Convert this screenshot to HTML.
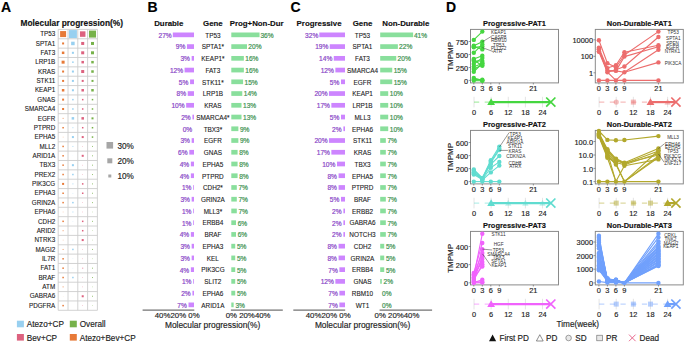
<!DOCTYPE html>
<html><head><meta charset="utf-8"><style>
html,body{margin:0;padding:0;background:#fff;width:685px;height:342px;overflow:hidden}
svg{display:block;font-family:"Liberation Sans",sans-serif}
</style></head><body>
<svg width="685" height="342" viewBox="0 0 685 342">
<rect width="685" height="342" fill="#fff"/>
<text x="1.00" y="11.80" font-size="14" text-anchor="start" font-weight="bold" fill="#000" stroke="#000" stroke-width="0.15">A</text>
<text x="20.50" y="25.90" font-size="8.35" text-anchor="start" font-weight="bold" fill="#111" stroke="#111" stroke-width="0.15">Molecular progression(%)</text>
<line x1="58.2" y1="29.4" x2="58.2" y2="310.3" stroke="#CDCDCD" stroke-width="0.9"/>
<line x1="68.0" y1="29.4" x2="68.0" y2="310.3" stroke="#CDCDCD" stroke-width="0.9"/>
<line x1="77.8" y1="29.4" x2="77.8" y2="310.3" stroke="#CDCDCD" stroke-width="0.9"/>
<line x1="87.6" y1="29.4" x2="87.6" y2="310.3" stroke="#CDCDCD" stroke-width="0.9"/>
<line x1="97.4" y1="29.4" x2="97.4" y2="310.3" stroke="#CDCDCD" stroke-width="0.9"/>
<line x1="58.2" y1="29.40" x2="97.4" y2="29.40" stroke="#CDCDCD" stroke-width="0.9"/>
<line x1="58.2" y1="38.76" x2="97.4" y2="38.76" stroke="#CDCDCD" stroke-width="0.9"/>
<line x1="58.2" y1="48.13" x2="97.4" y2="48.13" stroke="#CDCDCD" stroke-width="0.9"/>
<line x1="58.2" y1="57.49" x2="97.4" y2="57.49" stroke="#CDCDCD" stroke-width="0.9"/>
<line x1="58.2" y1="66.85" x2="97.4" y2="66.85" stroke="#CDCDCD" stroke-width="0.9"/>
<line x1="58.2" y1="76.22" x2="97.4" y2="76.22" stroke="#CDCDCD" stroke-width="0.9"/>
<line x1="58.2" y1="85.58" x2="97.4" y2="85.58" stroke="#CDCDCD" stroke-width="0.9"/>
<line x1="58.2" y1="94.94" x2="97.4" y2="94.94" stroke="#CDCDCD" stroke-width="0.9"/>
<line x1="58.2" y1="104.31" x2="97.4" y2="104.31" stroke="#CDCDCD" stroke-width="0.9"/>
<line x1="58.2" y1="113.67" x2="97.4" y2="113.67" stroke="#CDCDCD" stroke-width="0.9"/>
<line x1="58.2" y1="123.03" x2="97.4" y2="123.03" stroke="#CDCDCD" stroke-width="0.9"/>
<line x1="58.2" y1="132.40" x2="97.4" y2="132.40" stroke="#CDCDCD" stroke-width="0.9"/>
<line x1="58.2" y1="141.76" x2="97.4" y2="141.76" stroke="#CDCDCD" stroke-width="0.9"/>
<line x1="58.2" y1="151.12" x2="97.4" y2="151.12" stroke="#CDCDCD" stroke-width="0.9"/>
<line x1="58.2" y1="160.49" x2="97.4" y2="160.49" stroke="#CDCDCD" stroke-width="0.9"/>
<line x1="58.2" y1="169.85" x2="97.4" y2="169.85" stroke="#CDCDCD" stroke-width="0.9"/>
<line x1="58.2" y1="179.21" x2="97.4" y2="179.21" stroke="#CDCDCD" stroke-width="0.9"/>
<line x1="58.2" y1="188.58" x2="97.4" y2="188.58" stroke="#CDCDCD" stroke-width="0.9"/>
<line x1="58.2" y1="197.94" x2="97.4" y2="197.94" stroke="#CDCDCD" stroke-width="0.9"/>
<line x1="58.2" y1="207.30" x2="97.4" y2="207.30" stroke="#CDCDCD" stroke-width="0.9"/>
<line x1="58.2" y1="216.67" x2="97.4" y2="216.67" stroke="#CDCDCD" stroke-width="0.9"/>
<line x1="58.2" y1="226.03" x2="97.4" y2="226.03" stroke="#CDCDCD" stroke-width="0.9"/>
<line x1="58.2" y1="235.39" x2="97.4" y2="235.39" stroke="#CDCDCD" stroke-width="0.9"/>
<line x1="58.2" y1="244.76" x2="97.4" y2="244.76" stroke="#CDCDCD" stroke-width="0.9"/>
<line x1="58.2" y1="254.12" x2="97.4" y2="254.12" stroke="#CDCDCD" stroke-width="0.9"/>
<line x1="58.2" y1="263.48" x2="97.4" y2="263.48" stroke="#CDCDCD" stroke-width="0.9"/>
<line x1="58.2" y1="272.85" x2="97.4" y2="272.85" stroke="#CDCDCD" stroke-width="0.9"/>
<line x1="58.2" y1="282.21" x2="97.4" y2="282.21" stroke="#CDCDCD" stroke-width="0.9"/>
<line x1="58.2" y1="291.57" x2="97.4" y2="291.57" stroke="#CDCDCD" stroke-width="0.9"/>
<line x1="58.2" y1="300.94" x2="97.4" y2="300.94" stroke="#CDCDCD" stroke-width="0.9"/>
<line x1="58.2" y1="310.30" x2="97.4" y2="310.30" stroke="#CDCDCD" stroke-width="0.9"/>
<text x="55.20" y="36.28" font-size="6.3" text-anchor="end" fill="#1a1a1a" stroke="#1a1a1a" stroke-width="0.1">TP53</text>
<rect x="60.10" y="31.08" width="6" height="6" fill="#E77A38" opacity="1"/>
<rect x="68.90" y="30.08" width="8" height="8" fill="#98D0F0" opacity="1"/>
<rect x="79.95" y="31.33" width="5.5" height="5.5" fill="#DD627F" opacity="1"/>
<rect x="89.00" y="30.58" width="7" height="7" fill="#77B24A" opacity="1"/>
<text x="55.20" y="45.65" font-size="6.3" text-anchor="end" fill="#1a1a1a" stroke="#1a1a1a" stroke-width="0.1">SPTA1</text>
<rect x="62.10" y="42.45" width="2" height="2" fill="#E77A38" opacity="1"/>
<rect x="71.15" y="41.70" width="3.5" height="3.5" fill="#98D0F0" opacity="1"/>
<rect x="81.20" y="41.95" width="3" height="3" fill="#DD627F" opacity="1"/>
<rect x="91.00" y="41.95" width="3" height="3" fill="#77B24A" opacity="1"/>
<text x="55.20" y="55.01" font-size="6.3" text-anchor="end" fill="#1a1a1a" stroke="#1a1a1a" stroke-width="0.1">FAT3</text>
<rect x="61.85" y="51.56" width="2.5" height="2.5" fill="#E77A38" opacity="1"/>
<rect x="71.90" y="51.81" width="2" height="2" fill="#98D0F0" opacity="1"/>
<rect x="81.20" y="51.31" width="3" height="3" fill="#DD627F" opacity="1"/>
<rect x="91.00" y="51.31" width="3" height="3" fill="#77B24A" opacity="1"/>
<text x="55.20" y="64.37" font-size="6.3" text-anchor="end" fill="#1a1a1a" stroke="#1a1a1a" stroke-width="0.1">LRP1B</text>
<rect x="61.60" y="60.67" width="3" height="3" fill="#E77A38" opacity="1"/>
<rect x="72.15" y="61.42" width="1.5" height="1.5" fill="#98D0F0" opacity="1"/>
<rect x="81.45" y="60.92" width="2.5" height="2.5" fill="#DD627F" opacity="1"/>
<rect x="91.25" y="60.92" width="2.5" height="2.5" fill="#77B24A" opacity="1"/>
<text x="55.20" y="73.73" font-size="6.3" text-anchor="end" fill="#1a1a1a" stroke="#1a1a1a" stroke-width="0.1">KRAS</text>
<rect x="62.10" y="70.53" width="2" height="2" fill="#E77A38" opacity="1"/>
<rect x="71.90" y="70.53" width="2" height="2" fill="#98D0F0" opacity="1"/>
<rect x="81.20" y="70.03" width="3" height="3" fill="#DD627F" opacity="1"/>
<rect x="91.25" y="70.28" width="2.5" height="2.5" fill="#77B24A" opacity="1"/>
<text x="55.20" y="83.10" font-size="6.3" text-anchor="end" fill="#1a1a1a" stroke="#1a1a1a" stroke-width="0.1">STK11</text>
<rect x="62.10" y="79.90" width="2" height="2" fill="#E77A38" opacity="1"/>
<rect x="71.90" y="79.90" width="2" height="2" fill="#98D0F0" opacity="1"/>
<rect x="81.70" y="79.90" width="2" height="2" fill="#DD627F" opacity="1"/>
<rect x="91.50" y="79.90" width="2" height="2" fill="#77B24A" opacity="1"/>
<text x="55.20" y="92.46" font-size="6.3" text-anchor="end" fill="#1a1a1a" stroke="#1a1a1a" stroke-width="0.1">KEAP1</text>
<rect x="61.85" y="89.01" width="2.5" height="2.5" fill="#E77A38" opacity="1"/>
<rect x="71.90" y="89.26" width="2" height="2" fill="#98D0F0" opacity="1"/>
<rect x="81.45" y="89.01" width="2.5" height="2.5" fill="#DD627F" opacity="1"/>
<rect x="91.25" y="89.01" width="2.5" height="2.5" fill="#77B24A" opacity="1"/>
<text x="55.20" y="101.83" font-size="6.3" text-anchor="end" fill="#1a1a1a" stroke="#1a1a1a" stroke-width="0.1">GNAS</text>
<rect x="62.10" y="98.62" width="2" height="2" fill="#E77A38" opacity="1"/>
<rect x="72.15" y="98.88" width="1.5" height="1.5" fill="#98D0F0" opacity="1"/>
<rect x="81.95" y="98.88" width="1.5" height="1.5" fill="#DD627F" opacity="1"/>
<rect x="91.75" y="98.88" width="1.5" height="1.5" fill="#77B24A" opacity="1"/>
<text x="55.20" y="111.19" font-size="6.3" text-anchor="end" fill="#1a1a1a" stroke="#1a1a1a" stroke-width="0.1">SMARCA4</text>
<rect x="62.10" y="107.99" width="2" height="2" fill="#E77A38" opacity="1"/>
<rect x="72.15" y="108.24" width="1.5" height="1.5" fill="#98D0F0" opacity="1"/>
<rect x="81.95" y="108.24" width="1.5" height="1.5" fill="#DD627F" opacity="1"/>
<rect x="91.75" y="108.24" width="1.5" height="1.5" fill="#77B24A" opacity="1"/>
<text x="55.20" y="120.55" font-size="6.3" text-anchor="end" fill="#1a1a1a" stroke="#1a1a1a" stroke-width="0.1">EGFR</text>
<rect x="62.60" y="117.85" width="1" height="1" fill="#E77A38" opacity="0.75"/>
<rect x="71.65" y="117.10" width="2.5" height="2.5" fill="#98D0F0" opacity="1"/>
<rect x="81.45" y="117.10" width="2.5" height="2.5" fill="#DD627F" opacity="1"/>
<rect x="91.50" y="117.35" width="2" height="2" fill="#77B24A" opacity="1"/>
<text x="55.20" y="129.91" font-size="6.3" text-anchor="end" fill="#1a1a1a" stroke="#1a1a1a" stroke-width="0.1">PTPRD</text>
<rect x="62.35" y="126.97" width="1.5" height="1.5" fill="#E77A38" opacity="1"/>
<rect x="72.40" y="127.22" width="1" height="1" fill="#98D0F0" opacity="0.75"/>
<rect x="81.95" y="126.97" width="1.5" height="1.5" fill="#DD627F" opacity="1"/>
<rect x="91.75" y="126.97" width="1.5" height="1.5" fill="#77B24A" opacity="1"/>
<text x="55.20" y="139.28" font-size="6.3" text-anchor="end" fill="#1a1a1a" stroke="#1a1a1a" stroke-width="0.1">EPHA5</text>
<rect x="62.80" y="136.78" width="0.6" height="0.6" fill="#E77A38" opacity="0.75"/>
<rect x="71.90" y="136.08" width="2" height="2" fill="#98D0F0" opacity="1"/>
<rect x="81.70" y="136.08" width="2" height="2" fill="#DD627F" opacity="1"/>
<rect x="91.75" y="136.33" width="1.5" height="1.5" fill="#77B24A" opacity="1"/>
<text x="55.20" y="148.64" font-size="6.3" text-anchor="end" fill="#1a1a1a" stroke="#1a1a1a" stroke-width="0.1">MLL2</text>
<rect x="62.35" y="145.69" width="1.5" height="1.5" fill="#E77A38" opacity="1"/>
<rect x="72.40" y="145.94" width="1" height="1" fill="#98D0F0" opacity="0.75"/>
<rect x="82.40" y="146.14" width="0.6" height="0.6" fill="#DD627F" opacity="0.75"/>
<rect x="92.00" y="145.94" width="1" height="1" fill="#77B24A" opacity="0.75"/>
<text x="55.20" y="158.01" font-size="6.3" text-anchor="end" fill="#1a1a1a" stroke="#1a1a1a" stroke-width="0.1">ARID1A</text>
<rect x="62.35" y="155.06" width="1.5" height="1.5" fill="#E77A38" opacity="1"/>
<rect x="72.75" y="155.66" width="0.3" height="0.3" fill="#98D0F0" opacity="0.75"/>
<rect x="81.70" y="154.81" width="2" height="2" fill="#DD627F" opacity="1"/>
<rect x="92.00" y="155.31" width="1" height="1" fill="#77B24A" opacity="0.75"/>
<text x="55.20" y="167.37" font-size="6.3" text-anchor="end" fill="#1a1a1a" stroke="#1a1a1a" stroke-width="0.1">TBX3</text>
<rect x="62.35" y="164.42" width="1.5" height="1.5" fill="#E77A38" opacity="1"/>
<rect x="71.90" y="164.17" width="2" height="2" fill="#98D0F0" opacity="1"/>
<rect x="82.40" y="164.87" width="0.6" height="0.6" fill="#DD627F" opacity="0.75"/>
<rect x="92.00" y="164.67" width="1" height="1" fill="#77B24A" opacity="0.75"/>
<text x="55.20" y="176.73" font-size="6.3" text-anchor="end" fill="#1a1a1a" stroke="#1a1a1a" stroke-width="0.1">PREX2</text>
<rect x="62.35" y="173.78" width="1.5" height="1.5" fill="#E77A38" opacity="1"/>
<rect x="72.15" y="173.78" width="1.5" height="1.5" fill="#98D0F0" opacity="1"/>
<rect x="82.40" y="174.23" width="0.6" height="0.6" fill="#DD627F" opacity="0.75"/>
<rect x="92.00" y="174.03" width="1" height="1" fill="#77B24A" opacity="0.75"/>
<text x="55.20" y="186.10" font-size="6.3" text-anchor="end" fill="#1a1a1a" stroke="#1a1a1a" stroke-width="0.1">PIK3CG</text>
<rect x="62.10" y="182.90" width="2" height="2" fill="#E77A38" opacity="1"/>
<rect x="72.40" y="183.40" width="1" height="1" fill="#98D0F0" opacity="0.75"/>
<rect x="81.95" y="183.15" width="1.5" height="1.5" fill="#DD627F" opacity="1"/>
<rect x="92.00" y="183.40" width="1" height="1" fill="#77B24A" opacity="0.75"/>
<text x="55.20" y="195.46" font-size="6.3" text-anchor="end" fill="#1a1a1a" stroke="#1a1a1a" stroke-width="0.1">EPHA3</text>
<rect x="62.35" y="192.51" width="1.5" height="1.5" fill="#E77A38" opacity="1"/>
<rect x="72.60" y="192.96" width="0.6" height="0.6" fill="#98D0F0" opacity="0.75"/>
<rect x="81.95" y="192.51" width="1.5" height="1.5" fill="#DD627F" opacity="1"/>
<rect x="92.00" y="192.76" width="1" height="1" fill="#77B24A" opacity="0.75"/>
<text x="55.20" y="204.82" font-size="6.3" text-anchor="end" fill="#1a1a1a" stroke="#1a1a1a" stroke-width="0.1">GRIN2A</text>
<rect x="62.35" y="201.87" width="1.5" height="1.5" fill="#E77A38" opacity="1"/>
<rect x="72.15" y="201.87" width="1.5" height="1.5" fill="#98D0F0" opacity="1"/>
<rect x="82.40" y="202.32" width="0.6" height="0.6" fill="#DD627F" opacity="0.75"/>
<rect x="92.00" y="202.12" width="1" height="1" fill="#77B24A" opacity="0.75"/>
<text x="55.20" y="214.19" font-size="6.3" text-anchor="end" fill="#1a1a1a" stroke="#1a1a1a" stroke-width="0.1">EPHA6</text>
<rect x="62.80" y="211.69" width="0.6" height="0.6" fill="#E77A38" opacity="0.75"/>
<rect x="72.40" y="211.49" width="1" height="1" fill="#98D0F0" opacity="0.75"/>
<rect x="82.40" y="211.69" width="0.6" height="0.6" fill="#DD627F" opacity="0.75"/>
<rect x="92.20" y="211.69" width="0.6" height="0.6" fill="#77B24A" opacity="0.75"/>
<text x="55.20" y="223.55" font-size="6.3" text-anchor="end" fill="#1a1a1a" stroke="#1a1a1a" stroke-width="0.1">CDH2</text>
<rect x="62.35" y="220.60" width="1.5" height="1.5" fill="#E77A38" opacity="1"/>
<rect x="72.65" y="221.10" width="0.5" height="0.5" fill="#98D0F0" opacity="0.75"/>
<rect x="81.95" y="220.60" width="1.5" height="1.5" fill="#DD627F" opacity="1"/>
<rect x="92.00" y="220.85" width="1" height="1" fill="#77B24A" opacity="0.75"/>
<text x="55.20" y="232.91" font-size="6.3" text-anchor="end" fill="#1a1a1a" stroke="#1a1a1a" stroke-width="0.1">ARID2</text>
<rect x="62.60" y="230.21" width="1" height="1" fill="#E77A38" opacity="0.75"/>
<rect x="72.75" y="230.56" width="0.3" height="0.3" fill="#98D0F0" opacity="0.75"/>
<rect x="81.95" y="229.96" width="1.5" height="1.5" fill="#DD627F" opacity="1"/>
<rect x="92.20" y="230.41" width="0.6" height="0.6" fill="#77B24A" opacity="0.75"/>
<text x="55.20" y="242.28" font-size="6.3" text-anchor="end" fill="#1a1a1a" stroke="#1a1a1a" stroke-width="0.1">NTRK3</text>
<rect x="62.80" y="239.78" width="0.6" height="0.6" fill="#E77A38" opacity="0.75"/>
<rect x="72.60" y="239.78" width="0.6" height="0.6" fill="#98D0F0" opacity="0.75"/>
<rect x="81.70" y="239.08" width="2" height="2" fill="#DD627F" opacity="1"/>
<rect x="92.20" y="239.78" width="0.6" height="0.6" fill="#77B24A" opacity="0.75"/>
<text x="55.20" y="251.64" font-size="6.3" text-anchor="end" fill="#1a1a1a" stroke="#1a1a1a" stroke-width="0.1">MAGI2</text>
<rect x="62.60" y="248.94" width="1" height="1" fill="#E77A38" opacity="0.75"/>
<rect x="72.15" y="248.69" width="1.5" height="1.5" fill="#98D0F0" opacity="1"/>
<rect x="82.40" y="249.14" width="0.6" height="0.6" fill="#DD627F" opacity="0.75"/>
<rect x="92.00" y="248.94" width="1" height="1" fill="#77B24A" opacity="0.75"/>
<text x="55.20" y="261.00" font-size="6.3" text-anchor="end" fill="#1a1a1a" stroke="#1a1a1a" stroke-width="0.1">IL7R</text>
<rect x="62.35" y="258.05" width="1.5" height="1.5" fill="#E77A38" opacity="1"/>
<rect x="72.65" y="258.55" width="0.5" height="0.5" fill="#98D0F0" opacity="0.75"/>
<rect x="82.40" y="258.50" width="0.6" height="0.6" fill="#DD627F" opacity="0.75"/>
<rect x="92.20" y="258.50" width="0.6" height="0.6" fill="#77B24A" opacity="0.75"/>
<text x="55.20" y="270.37" font-size="6.3" text-anchor="end" fill="#1a1a1a" stroke="#1a1a1a" stroke-width="0.1">FAT1</text>
<rect x="62.35" y="267.42" width="1.5" height="1.5" fill="#E77A38" opacity="1"/>
<rect x="72.65" y="267.92" width="0.5" height="0.5" fill="#98D0F0" opacity="0.75"/>
<rect x="82.20" y="267.67" width="1" height="1" fill="#DD627F" opacity="0.75"/>
<rect x="92.00" y="267.67" width="1" height="1" fill="#77B24A" opacity="0.75"/>
<text x="55.20" y="279.73" font-size="6.3" text-anchor="end" fill="#1a1a1a" stroke="#1a1a1a" stroke-width="0.1">BRAF</text>
<rect x="62.35" y="276.78" width="1.5" height="1.5" fill="#E77A38" opacity="1"/>
<rect x="72.15" y="276.78" width="1.5" height="1.5" fill="#98D0F0" opacity="1"/>
<rect x="82.40" y="277.23" width="0.6" height="0.6" fill="#DD627F" opacity="0.75"/>
<rect x="92.00" y="277.03" width="1" height="1" fill="#77B24A" opacity="0.75"/>
<text x="55.20" y="289.09" font-size="6.3" text-anchor="end" fill="#1a1a1a" stroke="#1a1a1a" stroke-width="0.1">ATM</text>
<rect x="62.60" y="286.39" width="1" height="1" fill="#E77A38" opacity="0.75"/>
<rect x="82.40" y="286.59" width="0.6" height="0.6" fill="#DD627F" opacity="0.75"/>
<rect x="92.20" y="286.59" width="0.6" height="0.6" fill="#77B24A" opacity="0.75"/>
<text x="55.20" y="298.46" font-size="6.3" text-anchor="end" fill="#1a1a1a" stroke="#1a1a1a" stroke-width="0.1">GABRA6</text>
<rect x="62.95" y="296.11" width="0.3" height="0.3" fill="#E77A38" opacity="0.75"/>
<rect x="72.75" y="296.11" width="0.3" height="0.3" fill="#98D0F0" opacity="0.75"/>
<rect x="81.70" y="295.26" width="2" height="2" fill="#DD627F" opacity="1"/>
<rect x="92.00" y="295.76" width="1" height="1" fill="#77B24A" opacity="0.75"/>
<text x="55.20" y="307.82" font-size="6.3" text-anchor="end" fill="#1a1a1a" stroke="#1a1a1a" stroke-width="0.1">PDGFRA</text>
<rect x="62.35" y="304.87" width="1.5" height="1.5" fill="#E77A38" opacity="1"/>
<rect x="82.40" y="305.32" width="0.6" height="0.6" fill="#DD627F" opacity="0.75"/>
<rect x="92.20" y="305.32" width="0.6" height="0.6" fill="#77B24A" opacity="0.75"/>
<rect x="106.50" y="142.00" width="6.6" height="6.6" fill="#A6A6A6"/>
<text x="117.50" y="148.60" font-size="8.2" text-anchor="start" fill="#222" stroke="#222" stroke-width="0.15">30%</text>
<rect x="107.30" y="158.30" width="5" height="5" fill="#A6A6A6"/>
<text x="117.50" y="164.10" font-size="8.2" text-anchor="start" fill="#222" stroke="#222" stroke-width="0.15">20%</text>
<rect x="108.30" y="174.50" width="3" height="3" fill="#A6A6A6"/>
<text x="117.50" y="179.30" font-size="8.2" text-anchor="start" fill="#222" stroke="#222" stroke-width="0.15">10%</text>
<rect x="16.9" y="320.7" width="7" height="6.6" fill="#98D0F0"/>
<text x="26.80" y="327.30" font-size="8.2" text-anchor="start" fill="#222" stroke="#222" stroke-width="0.15">Atezo+CP</text>
<rect x="69.8" y="320.7" width="7" height="6.6" fill="#77B24A"/>
<text x="79.70" y="327.30" font-size="8.2" text-anchor="start" fill="#222" stroke="#222" stroke-width="0.15">Overall</text>
<rect x="16.9" y="334.0" width="7" height="6.6" fill="#DD627F"/>
<text x="26.80" y="340.60" font-size="8.2" text-anchor="start" fill="#222" stroke="#222" stroke-width="0.15">Bev+CP</text>
<rect x="69.8" y="334.0" width="7" height="6.6" fill="#E77A38"/>
<text x="79.70" y="340.60" font-size="8.2" text-anchor="start" fill="#222" stroke="#222" stroke-width="0.15">Atezo+Bev+CP</text>
<text x="147.50" y="11.80" font-size="14" text-anchor="start" font-weight="bold" fill="#000" stroke="#000" stroke-width="0.15">B</text>
<text x="154.20" y="26.00" font-size="7.85" text-anchor="start" font-weight="bold" fill="#111" stroke="#111" stroke-width="0.15">Durable</text>
<text x="212.90" y="26.00" font-size="7.85" text-anchor="middle" font-weight="bold" fill="#111" stroke="#111" stroke-width="0.15">Gene</text>
<text x="229.70" y="26.00" font-size="7.85" text-anchor="start" font-weight="bold" fill="#111" stroke="#111" stroke-width="0.15">Prog+Non-Dur</text>
<rect x="172.81" y="32.50" width="21.20" height="4.7" fill="#CD85FF"/>
<text x="171.68" y="37.75" font-size="6.6" text-anchor="end" fill="#8A48C8" stroke="#8A48C8" stroke-width="0.2">27%</text>
<text x="212.90" y="37.65" font-size="6.4" text-anchor="middle" fill="#1a1a1a" stroke="#1a1a1a" stroke-width="0.1">TP53</text>
<rect x="231.30" y="32.50" width="28.26" height="4.7" fill="#89DF9C"/>
<text x="260.46" y="37.75" font-size="6.6" text-anchor="start" fill="#3F9352" stroke="#3F9352" stroke-width="0.2">36%</text>
<rect x="186.94" y="44.24" width="7.07" height="4.7" fill="#CD85FF"/>
<text x="185.36" y="49.49" font-size="6.6" text-anchor="end" fill="#8A48C8" stroke="#8A48C8" stroke-width="0.2">9%</text>
<text x="212.90" y="49.39" font-size="6.4" text-anchor="middle" fill="#1a1a1a" stroke="#1a1a1a" stroke-width="0.1">SPTA1*</text>
<rect x="231.30" y="44.24" width="15.70" height="4.7" fill="#89DF9C"/>
<text x="248.30" y="49.49" font-size="6.6" text-anchor="start" fill="#3F9352" stroke="#3F9352" stroke-width="0.2">20%</text>
<rect x="191.65" y="55.98" width="2.35" height="4.7" fill="#CD85FF"/>
<text x="189.92" y="61.23" font-size="6.6" text-anchor="end" fill="#8A48C8" stroke="#8A48C8" stroke-width="0.2">3%</text>
<text x="212.90" y="61.13" font-size="6.4" text-anchor="middle" fill="#1a1a1a" stroke="#1a1a1a" stroke-width="0.1">KEAP1*</text>
<rect x="231.30" y="55.98" width="12.56" height="4.7" fill="#89DF9C"/>
<text x="245.26" y="61.23" font-size="6.6" text-anchor="start" fill="#3F9352" stroke="#3F9352" stroke-width="0.2">16%</text>
<rect x="184.58" y="67.72" width="9.42" height="4.7" fill="#CD85FF"/>
<text x="183.08" y="72.97" font-size="6.6" text-anchor="end" fill="#8A48C8" stroke="#8A48C8" stroke-width="0.2">12%</text>
<text x="212.90" y="72.87" font-size="6.4" text-anchor="middle" fill="#1a1a1a" stroke="#1a1a1a" stroke-width="0.1">FAT3</text>
<rect x="231.30" y="67.72" width="12.56" height="4.7" fill="#89DF9C"/>
<text x="245.26" y="72.97" font-size="6.6" text-anchor="start" fill="#3F9352" stroke="#3F9352" stroke-width="0.2">16%</text>
<rect x="190.07" y="79.46" width="3.93" height="4.7" fill="#CD85FF"/>
<text x="188.40" y="84.71" font-size="6.6" text-anchor="end" fill="#8A48C8" stroke="#8A48C8" stroke-width="0.2">5%</text>
<text x="212.90" y="84.61" font-size="6.4" text-anchor="middle" fill="#1a1a1a" stroke="#1a1a1a" stroke-width="0.1">STK11*</text>
<rect x="231.30" y="79.46" width="11.78" height="4.7" fill="#89DF9C"/>
<text x="244.50" y="84.71" font-size="6.6" text-anchor="start" fill="#3F9352" stroke="#3F9352" stroke-width="0.2">15%</text>
<rect x="187.72" y="91.20" width="6.28" height="4.7" fill="#CD85FF"/>
<text x="186.12" y="96.45" font-size="6.6" text-anchor="end" fill="#8A48C8" stroke="#8A48C8" stroke-width="0.2">8%</text>
<text x="212.90" y="96.35" font-size="6.4" text-anchor="middle" fill="#1a1a1a" stroke="#1a1a1a" stroke-width="0.1">LRP1B</text>
<rect x="231.30" y="91.20" width="10.99" height="4.7" fill="#89DF9C"/>
<text x="243.74" y="96.45" font-size="6.6" text-anchor="start" fill="#3F9352" stroke="#3F9352" stroke-width="0.2">14%</text>
<rect x="186.15" y="102.94" width="7.85" height="4.7" fill="#CD85FF"/>
<text x="184.60" y="108.19" font-size="6.6" text-anchor="end" fill="#8A48C8" stroke="#8A48C8" stroke-width="0.2">10%</text>
<text x="212.90" y="108.09" font-size="6.4" text-anchor="middle" fill="#1a1a1a" stroke="#1a1a1a" stroke-width="0.1">KRAS</text>
<rect x="231.30" y="102.94" width="10.21" height="4.7" fill="#89DF9C"/>
<text x="242.98" y="108.19" font-size="6.6" text-anchor="start" fill="#3F9352" stroke="#3F9352" stroke-width="0.2">13%</text>
<rect x="192.43" y="114.68" width="1.57" height="4.7" fill="#CD85FF"/>
<text x="190.68" y="119.93" font-size="6.6" text-anchor="end" fill="#8A48C8" stroke="#8A48C8" stroke-width="0.2">2%</text>
<text x="212.90" y="119.83" font-size="6.4" text-anchor="middle" fill="#1a1a1a" stroke="#1a1a1a" stroke-width="0.1">SMARCA4*</text>
<rect x="231.30" y="114.68" width="10.21" height="4.7" fill="#89DF9C"/>
<text x="242.98" y="119.93" font-size="6.6" text-anchor="start" fill="#3F9352" stroke="#3F9352" stroke-width="0.2">13%</text>
<text x="192.20" y="131.67" font-size="6.6" text-anchor="end" fill="#8A48C8" stroke="#8A48C8" stroke-width="0.2">0%</text>
<text x="212.90" y="131.57" font-size="6.4" text-anchor="middle" fill="#1a1a1a" stroke="#1a1a1a" stroke-width="0.1">TBX3*</text>
<rect x="231.30" y="126.42" width="7.07" height="4.7" fill="#89DF9C"/>
<text x="239.94" y="131.67" font-size="6.6" text-anchor="start" fill="#3F9352" stroke="#3F9352" stroke-width="0.2">9%</text>
<rect x="191.65" y="138.16" width="2.35" height="4.7" fill="#CD85FF"/>
<text x="189.92" y="143.41" font-size="6.6" text-anchor="end" fill="#8A48C8" stroke="#8A48C8" stroke-width="0.2">3%</text>
<text x="212.90" y="143.31" font-size="6.4" text-anchor="middle" fill="#1a1a1a" stroke="#1a1a1a" stroke-width="0.1">EGFR</text>
<rect x="231.30" y="138.16" width="7.07" height="4.7" fill="#89DF9C"/>
<text x="239.94" y="143.41" font-size="6.6" text-anchor="start" fill="#3F9352" stroke="#3F9352" stroke-width="0.2">9%</text>
<rect x="189.29" y="149.90" width="4.71" height="4.7" fill="#CD85FF"/>
<text x="187.64" y="155.15" font-size="6.6" text-anchor="end" fill="#8A48C8" stroke="#8A48C8" stroke-width="0.2">6%</text>
<text x="212.90" y="155.05" font-size="6.4" text-anchor="middle" fill="#1a1a1a" stroke="#1a1a1a" stroke-width="0.1">GNAS</text>
<rect x="231.30" y="149.90" width="6.28" height="4.7" fill="#89DF9C"/>
<text x="239.18" y="155.15" font-size="6.6" text-anchor="start" fill="#3F9352" stroke="#3F9352" stroke-width="0.2">8%</text>
<rect x="190.86" y="161.64" width="3.14" height="4.7" fill="#CD85FF"/>
<text x="189.16" y="166.89" font-size="6.6" text-anchor="end" fill="#8A48C8" stroke="#8A48C8" stroke-width="0.2">4%</text>
<text x="212.90" y="166.79" font-size="6.4" text-anchor="middle" fill="#1a1a1a" stroke="#1a1a1a" stroke-width="0.1">EPHA5</text>
<rect x="231.30" y="161.64" width="6.28" height="4.7" fill="#89DF9C"/>
<text x="239.18" y="166.89" font-size="6.6" text-anchor="start" fill="#3F9352" stroke="#3F9352" stroke-width="0.2">8%</text>
<rect x="190.86" y="173.38" width="3.14" height="4.7" fill="#CD85FF"/>
<text x="189.16" y="178.63" font-size="6.6" text-anchor="end" fill="#8A48C8" stroke="#8A48C8" stroke-width="0.2">4%</text>
<text x="212.90" y="178.53" font-size="6.4" text-anchor="middle" fill="#1a1a1a" stroke="#1a1a1a" stroke-width="0.1">PTPRD</text>
<rect x="231.30" y="173.38" width="6.28" height="4.7" fill="#89DF9C"/>
<text x="239.18" y="178.63" font-size="6.6" text-anchor="start" fill="#3F9352" stroke="#3F9352" stroke-width="0.2">8%</text>
<rect x="193.22" y="185.12" width="0.79" height="4.7" fill="#CD85FF"/>
<text x="191.44" y="190.37" font-size="6.6" text-anchor="end" fill="#8A48C8" stroke="#8A48C8" stroke-width="0.2">1%</text>
<text x="212.90" y="190.27" font-size="6.4" text-anchor="middle" fill="#1a1a1a" stroke="#1a1a1a" stroke-width="0.1">CDH2*</text>
<rect x="231.30" y="185.12" width="5.50" height="4.7" fill="#89DF9C"/>
<text x="238.42" y="190.37" font-size="6.6" text-anchor="start" fill="#3F9352" stroke="#3F9352" stroke-width="0.2">7%</text>
<rect x="191.65" y="196.86" width="2.35" height="4.7" fill="#CD85FF"/>
<text x="189.92" y="202.11" font-size="6.6" text-anchor="end" fill="#8A48C8" stroke="#8A48C8" stroke-width="0.2">3%</text>
<text x="212.90" y="202.01" font-size="6.4" text-anchor="middle" fill="#1a1a1a" stroke="#1a1a1a" stroke-width="0.1">GRIN2A</text>
<rect x="231.30" y="196.86" width="5.50" height="4.7" fill="#89DF9C"/>
<text x="238.42" y="202.11" font-size="6.6" text-anchor="start" fill="#3F9352" stroke="#3F9352" stroke-width="0.2">7%</text>
<rect x="193.22" y="208.60" width="0.79" height="4.7" fill="#CD85FF"/>
<text x="191.44" y="213.85" font-size="6.6" text-anchor="end" fill="#8A48C8" stroke="#8A48C8" stroke-width="0.2">1%</text>
<text x="212.90" y="213.75" font-size="6.4" text-anchor="middle" fill="#1a1a1a" stroke="#1a1a1a" stroke-width="0.1">MLL3*</text>
<rect x="231.30" y="208.60" width="5.50" height="4.7" fill="#89DF9C"/>
<text x="238.42" y="213.85" font-size="6.6" text-anchor="start" fill="#3F9352" stroke="#3F9352" stroke-width="0.2">7%</text>
<rect x="193.22" y="220.34" width="0.79" height="4.7" fill="#CD85FF"/>
<text x="191.44" y="225.59" font-size="6.6" text-anchor="end" fill="#8A48C8" stroke="#8A48C8" stroke-width="0.2">1%</text>
<text x="212.90" y="225.49" font-size="6.4" text-anchor="middle" fill="#1a1a1a" stroke="#1a1a1a" stroke-width="0.1">ERBB4</text>
<rect x="231.30" y="220.34" width="4.71" height="4.7" fill="#89DF9C"/>
<text x="237.66" y="225.59" font-size="6.6" text-anchor="start" fill="#3F9352" stroke="#3F9352" stroke-width="0.2">6%</text>
<rect x="190.86" y="232.08" width="3.14" height="4.7" fill="#CD85FF"/>
<text x="189.16" y="237.33" font-size="6.6" text-anchor="end" fill="#8A48C8" stroke="#8A48C8" stroke-width="0.2">4%</text>
<text x="212.90" y="237.23" font-size="6.4" text-anchor="middle" fill="#1a1a1a" stroke="#1a1a1a" stroke-width="0.1">BRAF</text>
<rect x="231.30" y="232.08" width="4.71" height="4.7" fill="#89DF9C"/>
<text x="237.66" y="237.33" font-size="6.6" text-anchor="start" fill="#3F9352" stroke="#3F9352" stroke-width="0.2">6%</text>
<rect x="191.65" y="243.82" width="2.35" height="4.7" fill="#CD85FF"/>
<text x="189.92" y="249.07" font-size="6.6" text-anchor="end" fill="#8A48C8" stroke="#8A48C8" stroke-width="0.2">3%</text>
<text x="212.90" y="248.97" font-size="6.4" text-anchor="middle" fill="#1a1a1a" stroke="#1a1a1a" stroke-width="0.1">EPHA3</text>
<rect x="231.30" y="243.82" width="3.93" height="4.7" fill="#89DF9C"/>
<text x="236.90" y="249.07" font-size="6.6" text-anchor="start" fill="#3F9352" stroke="#3F9352" stroke-width="0.2">5%</text>
<rect x="191.65" y="255.56" width="2.35" height="4.7" fill="#CD85FF"/>
<text x="189.92" y="260.81" font-size="6.6" text-anchor="end" fill="#8A48C8" stroke="#8A48C8" stroke-width="0.2">3%</text>
<text x="212.90" y="260.71" font-size="6.4" text-anchor="middle" fill="#1a1a1a" stroke="#1a1a1a" stroke-width="0.1">KEL</text>
<rect x="231.30" y="255.56" width="3.93" height="4.7" fill="#89DF9C"/>
<text x="236.90" y="260.81" font-size="6.6" text-anchor="start" fill="#3F9352" stroke="#3F9352" stroke-width="0.2">5%</text>
<rect x="190.86" y="267.30" width="3.14" height="4.7" fill="#CD85FF"/>
<text x="189.16" y="272.55" font-size="6.6" text-anchor="end" fill="#8A48C8" stroke="#8A48C8" stroke-width="0.2">4%</text>
<text x="212.90" y="272.45" font-size="6.4" text-anchor="middle" fill="#1a1a1a" stroke="#1a1a1a" stroke-width="0.1">PIK3CG</text>
<rect x="231.30" y="267.30" width="3.93" height="4.7" fill="#89DF9C"/>
<text x="236.90" y="272.55" font-size="6.6" text-anchor="start" fill="#3F9352" stroke="#3F9352" stroke-width="0.2">5%</text>
<rect x="193.22" y="279.04" width="0.79" height="4.7" fill="#CD85FF"/>
<text x="191.44" y="284.29" font-size="6.6" text-anchor="end" fill="#8A48C8" stroke="#8A48C8" stroke-width="0.2">1%</text>
<text x="212.90" y="284.19" font-size="6.4" text-anchor="middle" fill="#1a1a1a" stroke="#1a1a1a" stroke-width="0.1">SLIT2</text>
<rect x="231.30" y="279.04" width="3.93" height="4.7" fill="#89DF9C"/>
<text x="236.90" y="284.29" font-size="6.6" text-anchor="start" fill="#3F9352" stroke="#3F9352" stroke-width="0.2">5%</text>
<rect x="192.43" y="290.78" width="1.57" height="4.7" fill="#CD85FF"/>
<text x="190.68" y="296.03" font-size="6.6" text-anchor="end" fill="#8A48C8" stroke="#8A48C8" stroke-width="0.2">2%</text>
<text x="212.90" y="295.93" font-size="6.4" text-anchor="middle" fill="#1a1a1a" stroke="#1a1a1a" stroke-width="0.1">EPHA6</text>
<rect x="231.30" y="290.78" width="3.93" height="4.7" fill="#89DF9C"/>
<text x="236.90" y="296.03" font-size="6.6" text-anchor="start" fill="#3F9352" stroke="#3F9352" stroke-width="0.2">5%</text>
<rect x="188.50" y="302.52" width="5.50" height="4.7" fill="#CD85FF"/>
<text x="186.88" y="307.77" font-size="6.6" text-anchor="end" fill="#8A48C8" stroke="#8A48C8" stroke-width="0.2">7%</text>
<text x="212.90" y="307.67" font-size="6.4" text-anchor="middle" fill="#1a1a1a" stroke="#1a1a1a" stroke-width="0.1">ARID1A</text>
<rect x="231.30" y="302.52" width="2.35" height="4.7" fill="#89DF9C"/>
<text x="235.38" y="307.77" font-size="6.6" text-anchor="start" fill="#3F9352" stroke="#3F9352" stroke-width="0.2">3%</text>
<line x1="142.6" y1="310.1" x2="194.3" y2="310.1" stroke="#222" stroke-width="0.8"/>
<line x1="230.9" y1="310.1" x2="282.8" y2="310.1" stroke="#222" stroke-width="0.8"/>
<text x="162.60" y="317.60" font-size="7.8" text-anchor="middle" fill="#222" stroke="#222" stroke-width="0.15">40%</text>
<text x="262.70" y="317.60" font-size="7.8" text-anchor="middle" fill="#222" stroke="#222" stroke-width="0.15">40%</text>
<text x="178.30" y="317.60" font-size="7.8" text-anchor="middle" fill="#222" stroke="#222" stroke-width="0.15">20%</text>
<text x="247.00" y="317.60" font-size="7.8" text-anchor="middle" fill="#222" stroke="#222" stroke-width="0.15">20%</text>
<text x="194.00" y="317.60" font-size="7.8" text-anchor="middle" fill="#222" stroke="#222" stroke-width="0.15">0%</text>
<text x="231.30" y="317.60" font-size="7.8" text-anchor="middle" fill="#222" stroke="#222" stroke-width="0.15">0%</text>
<text x="212.65" y="327.80" font-size="8.4" text-anchor="middle" fill="#222" stroke="#222" stroke-width="0.15">Molecular progression(%)</text>
<text x="290.60" y="11.80" font-size="14" text-anchor="start" font-weight="bold" fill="#000" stroke="#000" stroke-width="0.15">C</text>
<text x="296.60" y="26.00" font-size="7.85" text-anchor="start" font-weight="bold" fill="#111" stroke="#111" stroke-width="0.15">Progressive</text>
<text x="362.50" y="26.00" font-size="7.85" text-anchor="middle" font-weight="bold" fill="#111" stroke="#111" stroke-width="0.15">Gene</text>
<text x="382.30" y="26.00" font-size="7.85" text-anchor="start" font-weight="bold" fill="#111" stroke="#111" stroke-width="0.15">Non-Durable</text>
<rect x="319.30" y="32.50" width="25.70" height="4.7" fill="#CD85FF"/>
<text x="318.30" y="37.75" font-size="6.6" text-anchor="end" fill="#8A48C8" stroke="#8A48C8" stroke-width="0.2">32%</text>
<text x="362.50" y="37.65" font-size="6.4" text-anchor="middle" fill="#1a1a1a" stroke="#1a1a1a" stroke-width="0.1">TP53</text>
<rect x="380.20" y="32.50" width="32.92" height="4.7" fill="#89DF9C"/>
<text x="413.90" y="37.75" font-size="6.6" text-anchor="start" fill="#3F9352" stroke="#3F9352" stroke-width="0.2">41%</text>
<rect x="329.74" y="44.24" width="15.26" height="4.7" fill="#CD85FF"/>
<text x="328.42" y="49.49" font-size="6.6" text-anchor="end" fill="#8A48C8" stroke="#8A48C8" stroke-width="0.2">19%</text>
<text x="362.50" y="49.39" font-size="6.4" text-anchor="middle" fill="#1a1a1a" stroke="#1a1a1a" stroke-width="0.1">SPTA1</text>
<rect x="380.20" y="44.24" width="17.67" height="4.7" fill="#89DF9C"/>
<text x="399.12" y="49.49" font-size="6.6" text-anchor="start" fill="#3F9352" stroke="#3F9352" stroke-width="0.2">22%</text>
<rect x="333.76" y="55.98" width="11.24" height="4.7" fill="#CD85FF"/>
<text x="332.31" y="61.23" font-size="6.6" text-anchor="end" fill="#8A48C8" stroke="#8A48C8" stroke-width="0.2">14%</text>
<text x="362.50" y="61.13" font-size="6.4" text-anchor="middle" fill="#1a1a1a" stroke="#1a1a1a" stroke-width="0.1">FAT3</text>
<rect x="380.20" y="55.98" width="16.06" height="4.7" fill="#89DF9C"/>
<text x="397.56" y="61.23" font-size="6.6" text-anchor="start" fill="#3F9352" stroke="#3F9352" stroke-width="0.2">20%</text>
<rect x="335.36" y="67.72" width="9.64" height="4.7" fill="#CD85FF"/>
<text x="333.86" y="72.97" font-size="6.6" text-anchor="end" fill="#8A48C8" stroke="#8A48C8" stroke-width="0.2">12%</text>
<text x="362.50" y="72.87" font-size="6.4" text-anchor="middle" fill="#1a1a1a" stroke="#1a1a1a" stroke-width="0.1">SMARCA4</text>
<rect x="380.20" y="67.72" width="12.04" height="4.7" fill="#89DF9C"/>
<text x="393.67" y="72.97" font-size="6.6" text-anchor="start" fill="#3F9352" stroke="#3F9352" stroke-width="0.2">15%</text>
<rect x="340.99" y="79.46" width="4.02" height="4.7" fill="#CD85FF"/>
<text x="339.31" y="84.71" font-size="6.6" text-anchor="end" fill="#8A48C8" stroke="#8A48C8" stroke-width="0.2">5%</text>
<text x="362.50" y="84.61" font-size="6.4" text-anchor="middle" fill="#1a1a1a" stroke="#1a1a1a" stroke-width="0.1">EGFR</text>
<rect x="380.20" y="79.46" width="12.04" height="4.7" fill="#89DF9C"/>
<text x="393.67" y="84.71" font-size="6.6" text-anchor="start" fill="#3F9352" stroke="#3F9352" stroke-width="0.2">15%</text>
<rect x="328.94" y="91.20" width="16.06" height="4.7" fill="#CD85FF"/>
<text x="327.64" y="96.45" font-size="6.6" text-anchor="end" fill="#8A48C8" stroke="#8A48C8" stroke-width="0.2">20%</text>
<text x="362.50" y="96.35" font-size="6.4" text-anchor="middle" fill="#1a1a1a" stroke="#1a1a1a" stroke-width="0.1">KEAP1</text>
<rect x="380.20" y="91.20" width="8.03" height="4.7" fill="#89DF9C"/>
<text x="389.78" y="96.45" font-size="6.6" text-anchor="start" fill="#3F9352" stroke="#3F9352" stroke-width="0.2">10%</text>
<rect x="331.35" y="102.94" width="13.65" height="4.7" fill="#CD85FF"/>
<text x="329.97" y="108.19" font-size="6.6" text-anchor="end" fill="#8A48C8" stroke="#8A48C8" stroke-width="0.2">17%</text>
<text x="362.50" y="108.09" font-size="6.4" text-anchor="middle" fill="#1a1a1a" stroke="#1a1a1a" stroke-width="0.1">LRP1B</text>
<rect x="380.20" y="102.94" width="8.03" height="4.7" fill="#89DF9C"/>
<text x="389.78" y="108.19" font-size="6.6" text-anchor="start" fill="#3F9352" stroke="#3F9352" stroke-width="0.2">10%</text>
<rect x="340.99" y="114.68" width="4.02" height="4.7" fill="#CD85FF"/>
<text x="339.31" y="119.93" font-size="6.6" text-anchor="end" fill="#8A48C8" stroke="#8A48C8" stroke-width="0.2">5%</text>
<text x="362.50" y="119.83" font-size="6.4" text-anchor="middle" fill="#1a1a1a" stroke="#1a1a1a" stroke-width="0.1">MLL3</text>
<rect x="380.20" y="114.68" width="8.03" height="4.7" fill="#89DF9C"/>
<text x="389.78" y="119.93" font-size="6.6" text-anchor="start" fill="#3F9352" stroke="#3F9352" stroke-width="0.2">10%</text>
<rect x="343.39" y="126.42" width="1.61" height="4.7" fill="#CD85FF"/>
<text x="341.64" y="131.67" font-size="6.6" text-anchor="end" fill="#8A48C8" stroke="#8A48C8" stroke-width="0.2">2%</text>
<text x="362.50" y="131.57" font-size="6.4" text-anchor="middle" fill="#1a1a1a" stroke="#1a1a1a" stroke-width="0.1">EPHA6</text>
<rect x="380.20" y="126.42" width="8.03" height="4.7" fill="#89DF9C"/>
<text x="389.78" y="131.67" font-size="6.6" text-anchor="start" fill="#3F9352" stroke="#3F9352" stroke-width="0.2">10%</text>
<rect x="328.94" y="138.16" width="16.06" height="4.7" fill="#CD85FF"/>
<text x="327.64" y="143.41" font-size="6.6" text-anchor="end" fill="#8A48C8" stroke="#8A48C8" stroke-width="0.2">20%</text>
<text x="362.50" y="143.31" font-size="6.4" text-anchor="middle" fill="#1a1a1a" stroke="#1a1a1a" stroke-width="0.1">STK11</text>
<rect x="380.20" y="138.16" width="5.62" height="4.7" fill="#89DF9C"/>
<text x="387.45" y="143.41" font-size="6.6" text-anchor="start" fill="#3F9352" stroke="#3F9352" stroke-width="0.2">7%</text>
<rect x="331.35" y="149.90" width="13.65" height="4.7" fill="#CD85FF"/>
<text x="329.97" y="155.15" font-size="6.6" text-anchor="end" fill="#8A48C8" stroke="#8A48C8" stroke-width="0.2">17%</text>
<text x="362.50" y="155.05" font-size="6.4" text-anchor="middle" fill="#1a1a1a" stroke="#1a1a1a" stroke-width="0.1">KRAS</text>
<rect x="380.20" y="149.90" width="5.62" height="4.7" fill="#89DF9C"/>
<text x="387.45" y="155.15" font-size="6.6" text-anchor="start" fill="#3F9352" stroke="#3F9352" stroke-width="0.2">7%</text>
<rect x="336.97" y="161.64" width="8.03" height="4.7" fill="#CD85FF"/>
<text x="335.42" y="166.89" font-size="6.6" text-anchor="end" fill="#8A48C8" stroke="#8A48C8" stroke-width="0.2">10%</text>
<text x="362.50" y="166.79" font-size="6.4" text-anchor="middle" fill="#1a1a1a" stroke="#1a1a1a" stroke-width="0.1">TBX3</text>
<rect x="380.20" y="161.64" width="5.62" height="4.7" fill="#89DF9C"/>
<text x="387.45" y="166.89" font-size="6.6" text-anchor="start" fill="#3F9352" stroke="#3F9352" stroke-width="0.2">7%</text>
<rect x="338.58" y="173.38" width="6.42" height="4.7" fill="#CD85FF"/>
<text x="336.98" y="178.63" font-size="6.6" text-anchor="end" fill="#8A48C8" stroke="#8A48C8" stroke-width="0.2">8%</text>
<text x="362.50" y="178.53" font-size="6.4" text-anchor="middle" fill="#1a1a1a" stroke="#1a1a1a" stroke-width="0.1">EPHA5</text>
<rect x="380.20" y="173.38" width="5.62" height="4.7" fill="#89DF9C"/>
<text x="387.45" y="178.63" font-size="6.6" text-anchor="start" fill="#3F9352" stroke="#3F9352" stroke-width="0.2">7%</text>
<rect x="338.58" y="185.12" width="6.42" height="4.7" fill="#CD85FF"/>
<text x="336.98" y="190.37" font-size="6.6" text-anchor="end" fill="#8A48C8" stroke="#8A48C8" stroke-width="0.2">8%</text>
<text x="362.50" y="190.27" font-size="6.4" text-anchor="middle" fill="#1a1a1a" stroke="#1a1a1a" stroke-width="0.1">PTPRD</text>
<rect x="380.20" y="185.12" width="5.62" height="4.7" fill="#89DF9C"/>
<text x="387.45" y="190.37" font-size="6.6" text-anchor="start" fill="#3F9352" stroke="#3F9352" stroke-width="0.2">7%</text>
<rect x="340.99" y="196.86" width="4.02" height="4.7" fill="#CD85FF"/>
<text x="339.31" y="202.11" font-size="6.6" text-anchor="end" fill="#8A48C8" stroke="#8A48C8" stroke-width="0.2">5%</text>
<text x="362.50" y="202.01" font-size="6.4" text-anchor="middle" fill="#1a1a1a" stroke="#1a1a1a" stroke-width="0.1">BRAF</text>
<rect x="380.20" y="196.86" width="5.62" height="4.7" fill="#89DF9C"/>
<text x="387.45" y="202.11" font-size="6.6" text-anchor="start" fill="#3F9352" stroke="#3F9352" stroke-width="0.2">7%</text>
<rect x="343.39" y="208.60" width="1.61" height="4.7" fill="#CD85FF"/>
<text x="341.64" y="213.85" font-size="6.6" text-anchor="end" fill="#8A48C8" stroke="#8A48C8" stroke-width="0.2">2%</text>
<text x="362.50" y="213.75" font-size="6.4" text-anchor="middle" fill="#1a1a1a" stroke="#1a1a1a" stroke-width="0.1">ERBB2</text>
<rect x="380.20" y="208.60" width="5.62" height="4.7" fill="#89DF9C"/>
<text x="387.45" y="213.85" font-size="6.6" text-anchor="start" fill="#3F9352" stroke="#3F9352" stroke-width="0.2">7%</text>
<rect x="343.39" y="220.34" width="1.61" height="4.7" fill="#CD85FF"/>
<text x="341.64" y="225.59" font-size="6.6" text-anchor="end" fill="#8A48C8" stroke="#8A48C8" stroke-width="0.2">2%</text>
<text x="362.50" y="225.49" font-size="6.4" text-anchor="middle" fill="#1a1a1a" stroke="#1a1a1a" stroke-width="0.1">GABRA6</text>
<rect x="380.20" y="220.34" width="5.62" height="4.7" fill="#89DF9C"/>
<text x="387.45" y="225.59" font-size="6.6" text-anchor="start" fill="#3F9352" stroke="#3F9352" stroke-width="0.2">7%</text>
<rect x="343.39" y="232.08" width="1.61" height="4.7" fill="#CD85FF"/>
<text x="341.64" y="237.33" font-size="6.6" text-anchor="end" fill="#8A48C8" stroke="#8A48C8" stroke-width="0.2">2%</text>
<text x="362.50" y="237.23" font-size="6.4" text-anchor="middle" fill="#1a1a1a" stroke="#1a1a1a" stroke-width="0.1">NOTCH3</text>
<rect x="380.20" y="232.08" width="5.62" height="4.7" fill="#89DF9C"/>
<text x="387.45" y="237.33" font-size="6.6" text-anchor="start" fill="#3F9352" stroke="#3F9352" stroke-width="0.2">7%</text>
<rect x="338.58" y="243.82" width="6.42" height="4.7" fill="#CD85FF"/>
<text x="336.98" y="249.07" font-size="6.6" text-anchor="end" fill="#8A48C8" stroke="#8A48C8" stroke-width="0.2">8%</text>
<text x="362.50" y="248.97" font-size="6.4" text-anchor="middle" fill="#1a1a1a" stroke="#1a1a1a" stroke-width="0.1">CDH2</text>
<rect x="380.20" y="243.82" width="4.02" height="4.7" fill="#89DF9C"/>
<text x="385.89" y="249.07" font-size="6.6" text-anchor="start" fill="#3F9352" stroke="#3F9352" stroke-width="0.2">5%</text>
<rect x="338.58" y="255.56" width="6.42" height="4.7" fill="#CD85FF"/>
<text x="336.98" y="260.81" font-size="6.6" text-anchor="end" fill="#8A48C8" stroke="#8A48C8" stroke-width="0.2">8%</text>
<text x="362.50" y="260.71" font-size="6.4" text-anchor="middle" fill="#1a1a1a" stroke="#1a1a1a" stroke-width="0.1">GRIN2A</text>
<rect x="380.20" y="255.56" width="4.02" height="4.7" fill="#89DF9C"/>
<text x="385.89" y="260.81" font-size="6.6" text-anchor="start" fill="#3F9352" stroke="#3F9352" stroke-width="0.2">5%</text>
<rect x="339.38" y="267.30" width="5.62" height="4.7" fill="#CD85FF"/>
<text x="337.75" y="272.55" font-size="6.6" text-anchor="end" fill="#8A48C8" stroke="#8A48C8" stroke-width="0.2">7%</text>
<text x="362.50" y="272.45" font-size="6.4" text-anchor="middle" fill="#1a1a1a" stroke="#1a1a1a" stroke-width="0.1">ERBB4</text>
<rect x="380.20" y="267.30" width="4.02" height="4.7" fill="#89DF9C"/>
<text x="385.89" y="272.55" font-size="6.6" text-anchor="start" fill="#3F9352" stroke="#3F9352" stroke-width="0.2">5%</text>
<rect x="335.36" y="279.04" width="9.64" height="4.7" fill="#CD85FF"/>
<text x="333.86" y="284.29" font-size="6.6" text-anchor="end" fill="#8A48C8" stroke="#8A48C8" stroke-width="0.2">12%</text>
<text x="362.50" y="284.19" font-size="6.4" text-anchor="middle" fill="#1a1a1a" stroke="#1a1a1a" stroke-width="0.1">GNAS</text>
<rect x="380.20" y="279.04" width="1.61" height="4.7" fill="#89DF9C"/>
<text x="383.56" y="284.29" font-size="6.6" text-anchor="start" fill="#3F9352" stroke="#3F9352" stroke-width="0.2">2%</text>
<rect x="339.38" y="290.78" width="5.62" height="4.7" fill="#CD85FF"/>
<text x="337.75" y="296.03" font-size="6.6" text-anchor="end" fill="#8A48C8" stroke="#8A48C8" stroke-width="0.2">7%</text>
<text x="362.50" y="295.93" font-size="6.4" text-anchor="middle" fill="#1a1a1a" stroke="#1a1a1a" stroke-width="0.1">RBM10</text>
<text x="382.00" y="296.03" font-size="6.6" text-anchor="start" fill="#3F9352" stroke="#3F9352" stroke-width="0.2">0%</text>
<rect x="339.38" y="302.52" width="5.62" height="4.7" fill="#CD85FF"/>
<text x="337.75" y="307.77" font-size="6.6" text-anchor="end" fill="#8A48C8" stroke="#8A48C8" stroke-width="0.2">7%</text>
<text x="362.50" y="307.67" font-size="6.4" text-anchor="middle" fill="#1a1a1a" stroke="#1a1a1a" stroke-width="0.1">WT1</text>
<text x="382.00" y="307.77" font-size="6.6" text-anchor="start" fill="#3F9352" stroke="#3F9352" stroke-width="0.2">0%</text>
<line x1="293.3" y1="310.1" x2="345.2" y2="310.1" stroke="#222" stroke-width="0.8"/>
<line x1="379.6" y1="310.1" x2="432.1" y2="310.1" stroke="#222" stroke-width="0.8"/>
<text x="313.60" y="317.60" font-size="7.8" text-anchor="middle" fill="#222" stroke="#222" stroke-width="0.15">40%</text>
<text x="411.60" y="317.60" font-size="7.8" text-anchor="middle" fill="#222" stroke="#222" stroke-width="0.15">40%</text>
<text x="329.30" y="317.60" font-size="7.8" text-anchor="middle" fill="#222" stroke="#222" stroke-width="0.15">20%</text>
<text x="395.90" y="317.60" font-size="7.8" text-anchor="middle" fill="#222" stroke="#222" stroke-width="0.15">20%</text>
<text x="345.00" y="317.60" font-size="7.8" text-anchor="middle" fill="#222" stroke="#222" stroke-width="0.15">0%</text>
<text x="380.20" y="317.60" font-size="7.8" text-anchor="middle" fill="#222" stroke="#222" stroke-width="0.15">0%</text>
<text x="362.60" y="327.80" font-size="8.4" text-anchor="middle" fill="#222" stroke="#222" stroke-width="0.15">Molecular progression(%)</text>
<text x="446.00" y="12.00" font-size="14" text-anchor="start" font-weight="bold" fill="#000" stroke="#000" stroke-width="0.15">D</text>
<text x="514.50" y="25.60" font-size="7.45" text-anchor="middle" font-weight="bold" fill="#111" stroke="#111" stroke-width="0.15">Progressive-PAT1</text>
<rect x="470.5" y="29.4" width="88.00" height="53.50" fill="none" stroke="#858585" stroke-width="0.95"/>
<text transform="translate(452.8,56.35) rotate(-90)" font-size="8.0" text-anchor="middle" fill="#222" stroke="#222" stroke-width="0.15">TMPMP</text>
<line x1="468.7" y1="41.5" x2="470.5" y2="41.5" stroke="#555" stroke-width="0.6"/>
<text x="468.20" y="44.60" font-size="7.4" text-anchor="end" fill="#222" stroke="#222" stroke-width="0.15">750</text>
<line x1="468.7" y1="54.5" x2="470.5" y2="54.5" stroke="#555" stroke-width="0.6"/>
<text x="468.20" y="57.60" font-size="7.4" text-anchor="end" fill="#222" stroke="#222" stroke-width="0.15">500</text>
<line x1="468.7" y1="67.5" x2="470.5" y2="67.5" stroke="#555" stroke-width="0.6"/>
<text x="468.20" y="70.60" font-size="7.4" text-anchor="end" fill="#222" stroke="#222" stroke-width="0.15">250</text>
<line x1="468.7" y1="80.4" x2="470.5" y2="80.4" stroke="#555" stroke-width="0.6"/>
<text x="468.20" y="83.50" font-size="7.4" text-anchor="end" fill="#222" stroke="#222" stroke-width="0.15">0</text>
<line x1="473.80" y1="82.9" x2="473.80" y2="84.5" stroke="#555" stroke-width="0.6"/>
<text x="473.80" y="90.90" font-size="7.4" text-anchor="middle" fill="#222" stroke="#222" stroke-width="0.15">0</text>
<line x1="482.31" y1="82.9" x2="482.31" y2="84.5" stroke="#555" stroke-width="0.6"/>
<text x="482.31" y="90.90" font-size="7.4" text-anchor="middle" fill="#222" stroke="#222" stroke-width="0.15">3</text>
<line x1="490.81" y1="82.9" x2="490.81" y2="84.5" stroke="#555" stroke-width="0.6"/>
<text x="490.81" y="90.90" font-size="7.4" text-anchor="middle" fill="#222" stroke="#222" stroke-width="0.15">6</text>
<line x1="499.31" y1="82.9" x2="499.31" y2="84.5" stroke="#555" stroke-width="0.6"/>
<text x="499.31" y="90.90" font-size="7.4" text-anchor="middle" fill="#222" stroke="#222" stroke-width="0.15">9</text>
<line x1="533.34" y1="82.9" x2="533.34" y2="84.5" stroke="#555" stroke-width="0.6"/>
<text x="533.34" y="90.90" font-size="7.4" text-anchor="middle" fill="#222" stroke="#222" stroke-width="0.15">21</text>
<g stroke="#45D640" stroke-width="1.1" fill="none" stroke-linejoin="round">
<polyline points="473.80,39.90 482.31,31.60"/>
<polyline points="473.80,45.80 482.31,41.80"/>
<polyline points="473.80,47.30 482.31,46.60"/>
<polyline points="473.80,52.80 482.31,44.40"/>
<polyline points="473.80,46.50 482.31,49.40"/>
<polyline points="473.80,58.90 482.31,55.80"/>
<polyline points="473.80,61.00 482.31,61.00"/>
<polyline points="473.80,64.00 482.31,57.90"/>
<polyline points="473.80,66.70 482.31,63.40"/>
<polyline points="473.80,69.10 482.31,65.00"/>
<polyline points="473.80,71.80 482.31,63.00"/>
<polyline points="473.80,60.00 482.31,65.80"/>
<polyline points="473.80,78.00 482.31,80.40"/>
<polyline points="473.80,79.40 482.31,79.80"/>
<polyline points="473.80,80.60 482.31,80.80"/>
</g>
<g fill="#45D640">
<circle cx="473.80" cy="39.90" r="2.2"/>
<circle cx="482.31" cy="31.60" r="2.2"/>
<circle cx="473.80" cy="45.80" r="2.2"/>
<circle cx="482.31" cy="41.80" r="2.2"/>
<circle cx="473.80" cy="47.30" r="2.2"/>
<circle cx="482.31" cy="46.60" r="2.2"/>
<circle cx="473.80" cy="52.80" r="2.2"/>
<circle cx="482.31" cy="44.40" r="2.2"/>
<circle cx="473.80" cy="46.50" r="2.2"/>
<circle cx="482.31" cy="49.40" r="2.2"/>
<circle cx="473.80" cy="58.90" r="2.2"/>
<circle cx="482.31" cy="55.80" r="2.2"/>
<circle cx="473.80" cy="61.00" r="2.2"/>
<circle cx="482.31" cy="61.00" r="2.2"/>
<circle cx="473.80" cy="64.00" r="2.2"/>
<circle cx="482.31" cy="57.90" r="2.2"/>
<circle cx="473.80" cy="66.70" r="2.2"/>
<circle cx="482.31" cy="63.40" r="2.2"/>
<circle cx="473.80" cy="69.10" r="2.2"/>
<circle cx="482.31" cy="65.00" r="2.2"/>
<circle cx="473.80" cy="71.80" r="2.2"/>
<circle cx="482.31" cy="63.00" r="2.2"/>
<circle cx="473.80" cy="60.00" r="2.2"/>
<circle cx="482.31" cy="65.80" r="2.2"/>
<circle cx="473.80" cy="78.00" r="2.2"/>
<circle cx="482.31" cy="80.40" r="2.2"/>
<circle cx="473.80" cy="79.40" r="2.2"/>
<circle cx="482.31" cy="79.80" r="2.2"/>
<circle cx="473.80" cy="80.60" r="2.2"/>
<circle cx="482.31" cy="80.80" r="2.2"/>
</g>
<line x1="482.4" y1="41.8" x2="491.0" y2="36.6" stroke="#333" stroke-width="0.5"/>
<line x1="482.4" y1="47.6" x2="493.2" y2="51.6" stroke="#333" stroke-width="0.5"/>
<text x="498.60" y="34.10" font-size="4.7" text-anchor="middle" fill="#333">KEAP1</text>
<text x="498.80" y="39.40" font-size="4.7" text-anchor="middle" fill="#333">CASP8</text>
<text x="498.80" y="42.20" font-size="4.7" text-anchor="middle" fill="#333">RBM10</text>
<text x="498.70" y="46.50" font-size="4.7" text-anchor="middle" fill="#333">TP53</text>
<text x="498.60" y="50.20" font-size="4.7" text-anchor="middle" fill="#333">PLCG2</text>
<text x="497.60" y="53.20" font-size="4.7" text-anchor="middle" fill="#333">ATR</text>
<line x1="474.00" y1="96.80" x2="474.00" y2="107.40" stroke="#DDDDDD" stroke-width="0.8"/>
<text x="474.00" y="114.95" font-size="7.4" text-anchor="middle" fill="#222" stroke="#222" stroke-width="0.15">0</text>
<line x1="491.13" y1="96.80" x2="491.13" y2="107.40" stroke="#DDDDDD" stroke-width="0.8"/>
<text x="491.13" y="114.95" font-size="7.4" text-anchor="middle" fill="#222" stroke="#222" stroke-width="0.15">6</text>
<line x1="508.26" y1="96.80" x2="508.26" y2="107.40" stroke="#DDDDDD" stroke-width="0.8"/>
<text x="508.26" y="114.95" font-size="7.4" text-anchor="middle" fill="#222" stroke="#222" stroke-width="0.15">12</text>
<line x1="525.39" y1="96.80" x2="525.39" y2="107.40" stroke="#DDDDDD" stroke-width="0.8"/>
<text x="525.39" y="114.95" font-size="7.4" text-anchor="middle" fill="#222" stroke="#222" stroke-width="0.15">18</text>
<line x1="542.52" y1="96.80" x2="542.52" y2="107.40" stroke="#DDDDDD" stroke-width="0.8"/>
<text x="542.52" y="114.95" font-size="7.4" text-anchor="middle" fill="#222" stroke="#222" stroke-width="0.15">24</text>
<line x1="474.00" y1="102.10000000000001" x2="491.13" y2="102.10000000000001" stroke="#45D640" stroke-opacity="0.45" stroke-width="1.4" stroke-dasharray="5.2,5.5"/>
<line x1="491.13" y1="102.10000000000001" x2="550.80" y2="102.10000000000001" stroke="#45D640" stroke-width="2.2"/>
<path d="M487.23,104.9 L491.13,98.30000000000001 L495.03,104.9Z" fill="#45D640"/>
<path d="M546.20,97.50000000000001 L555.40,106.7 M546.20,106.7 L555.40,97.50000000000001" stroke="#45D640" stroke-width="1.7"/>
<text x="639.30" y="25.60" font-size="7.45" text-anchor="middle" font-weight="bold" fill="#111" stroke="#111" stroke-width="0.15">Non-Durable-PAT1</text>
<rect x="595.3" y="29.4" width="88.00" height="53.50" fill="none" stroke="#858585" stroke-width="0.95"/>
<line x1="593.5" y1="39.8" x2="595.3" y2="39.8" stroke="#555" stroke-width="0.6"/>
<text x="593.00" y="42.90" font-size="7.4" text-anchor="end" fill="#222" stroke="#222" stroke-width="0.15">10000</text>
<line x1="593.5" y1="56.3" x2="595.3" y2="56.3" stroke="#555" stroke-width="0.6"/>
<text x="593.00" y="59.40" font-size="7.4" text-anchor="end" fill="#222" stroke="#222" stroke-width="0.15">100</text>
<line x1="593.5" y1="72.8" x2="595.3" y2="72.8" stroke="#555" stroke-width="0.6"/>
<text x="593.00" y="75.90" font-size="7.4" text-anchor="end" fill="#222" stroke="#222" stroke-width="0.15">1</text>
<line x1="598.90" y1="82.9" x2="598.90" y2="84.5" stroke="#555" stroke-width="0.6"/>
<text x="598.90" y="90.90" font-size="7.4" text-anchor="middle" fill="#222" stroke="#222" stroke-width="0.15">0</text>
<line x1="607.40" y1="82.9" x2="607.40" y2="84.5" stroke="#555" stroke-width="0.6"/>
<text x="607.40" y="90.90" font-size="7.4" text-anchor="middle" fill="#222" stroke="#222" stroke-width="0.15">3</text>
<line x1="615.91" y1="82.9" x2="615.91" y2="84.5" stroke="#555" stroke-width="0.6"/>
<text x="615.91" y="90.90" font-size="7.4" text-anchor="middle" fill="#222" stroke="#222" stroke-width="0.15">6</text>
<line x1="624.41" y1="82.9" x2="624.41" y2="84.5" stroke="#555" stroke-width="0.6"/>
<text x="624.41" y="90.90" font-size="7.4" text-anchor="middle" fill="#222" stroke="#222" stroke-width="0.15">9</text>
<line x1="658.43" y1="82.9" x2="658.43" y2="84.5" stroke="#555" stroke-width="0.6"/>
<text x="658.43" y="90.90" font-size="7.4" text-anchor="middle" fill="#222" stroke="#222" stroke-width="0.15">21</text>
<g stroke="#EC6D6D" stroke-width="1.1" fill="none" stroke-linejoin="round">
<polyline points="598.90,40.30 607.40,63.20 615.91,67.30 624.41,55.00 658.43,31.60"/>
<polyline points="598.90,47.60 607.40,68.10 615.91,65.30 624.41,52.20 658.43,45.20"/>
<polyline points="598.90,49.30 607.40,70.60 615.91,70.90 624.41,56.60 658.43,46.80"/>
<polyline points="598.90,51.70 607.40,72.20 615.91,69.70 624.41,66.50 658.43,37.00"/>
<polyline points="598.90,49.00 607.40,72.20 615.91,80.40 624.41,72.20 658.43,49.80"/>
<polyline points="598.90,51.20 607.40,70.60 615.91,70.90 624.41,72.20 658.43,62.40"/>
<polyline points="598.90,80.40 607.40,80.40 615.91,80.40 624.41,80.40 658.43,80.40"/>
</g>
<g fill="#EC6D6D">
<circle cx="598.90" cy="40.30" r="2.2"/>
<circle cx="607.40" cy="63.20" r="2.2"/>
<circle cx="615.91" cy="67.30" r="2.2"/>
<circle cx="624.41" cy="55.00" r="2.2"/>
<circle cx="658.43" cy="31.60" r="2.2"/>
<circle cx="598.90" cy="47.60" r="2.2"/>
<circle cx="607.40" cy="68.10" r="2.2"/>
<circle cx="615.91" cy="65.30" r="2.2"/>
<circle cx="624.41" cy="52.20" r="2.2"/>
<circle cx="658.43" cy="45.20" r="2.2"/>
<circle cx="598.90" cy="49.30" r="2.2"/>
<circle cx="607.40" cy="70.60" r="2.2"/>
<circle cx="615.91" cy="70.90" r="2.2"/>
<circle cx="624.41" cy="56.60" r="2.2"/>
<circle cx="658.43" cy="46.80" r="2.2"/>
<circle cx="598.90" cy="51.70" r="2.2"/>
<circle cx="607.40" cy="72.20" r="2.2"/>
<circle cx="615.91" cy="69.70" r="2.2"/>
<circle cx="624.41" cy="66.50" r="2.2"/>
<circle cx="658.43" cy="37.00" r="2.2"/>
<circle cx="598.90" cy="49.00" r="2.2"/>
<circle cx="615.91" cy="80.40" r="2.2"/>
<circle cx="624.41" cy="72.20" r="2.2"/>
<circle cx="658.43" cy="49.80" r="2.2"/>
<circle cx="598.90" cy="51.20" r="2.2"/>
<circle cx="658.43" cy="62.40" r="2.2"/>
<circle cx="598.90" cy="80.40" r="2.2"/>
<circle cx="607.40" cy="80.40" r="2.2"/>
<circle cx="624.41" cy="80.40" r="2.2"/>
<circle cx="658.43" cy="80.40" r="2.2"/>
</g>
<text x="673.20" y="34.40" font-size="4.7" text-anchor="middle" fill="#333">TP53</text>
<text x="673.30" y="39.70" font-size="4.7" text-anchor="middle" fill="#333">SPTA1</text>
<text x="672.60" y="45.20" font-size="4.7" text-anchor="middle" fill="#333">SPEN</text>
<text x="672.60" y="48.90" font-size="4.7" text-anchor="middle" fill="#333">EGFR</text>
<text x="672.50" y="53.20" font-size="4.7" text-anchor="middle" fill="#333">NTRK1</text>
<text x="673.00" y="64.80" font-size="4.7" text-anchor="middle" fill="#333">PIK3CA</text>
<line x1="599.10" y1="96.80" x2="599.10" y2="107.40" stroke="#DDDDDD" stroke-width="0.8"/>
<text x="599.10" y="114.95" font-size="7.4" text-anchor="middle" fill="#222" stroke="#222" stroke-width="0.15">0</text>
<line x1="616.23" y1="96.80" x2="616.23" y2="107.40" stroke="#DDDDDD" stroke-width="0.8"/>
<text x="616.23" y="114.95" font-size="7.4" text-anchor="middle" fill="#222" stroke="#222" stroke-width="0.15">6</text>
<line x1="633.36" y1="96.80" x2="633.36" y2="107.40" stroke="#DDDDDD" stroke-width="0.8"/>
<text x="633.36" y="114.95" font-size="7.4" text-anchor="middle" fill="#222" stroke="#222" stroke-width="0.15">12</text>
<line x1="650.49" y1="96.80" x2="650.49" y2="107.40" stroke="#DDDDDD" stroke-width="0.8"/>
<text x="650.49" y="114.95" font-size="7.4" text-anchor="middle" fill="#222" stroke="#222" stroke-width="0.15">18</text>
<line x1="667.62" y1="96.80" x2="667.62" y2="107.40" stroke="#DDDDDD" stroke-width="0.8"/>
<text x="667.62" y="114.95" font-size="7.4" text-anchor="middle" fill="#222" stroke="#222" stroke-width="0.15">24</text>
<line x1="599.10" y1="102.10000000000001" x2="650.49" y2="102.10000000000001" stroke="#EC6D6D" stroke-opacity="0.45" stroke-width="1.4" stroke-dasharray="5.2,5.5"/>
<circle cx="616.23" cy="102.10000000000001" r="2.6" fill="#EC6D6D" opacity="0.45"/>
<rect x="630.86" y="99.60000000000001" width="5" height="5" fill="#EC6D6D" opacity="0.5"/>
<path d="M664.42,104.7 L667.62,98.7 L670.82,104.7Z" fill="#EC6D6D" opacity="0.4"/>
<line x1="650.49" y1="102.10000000000001" x2="675.90" y2="102.10000000000001" stroke="#EC6D6D" stroke-width="2.2"/>
<path d="M646.59,104.9 L650.49,98.30000000000001 L654.39,104.9Z" fill="#EC6D6D"/>
<path d="M671.30,97.50000000000001 L680.50,106.7 M671.30,106.7 L680.50,97.50000000000001" stroke="#EC6D6D" stroke-width="1.7"/>
<text x="514.50" y="126.60" font-size="7.45" text-anchor="middle" font-weight="bold" fill="#111" stroke="#111" stroke-width="0.15">Progressive-PAT2</text>
<rect x="470.5" y="130.4" width="88.00" height="53.50" fill="none" stroke="#858585" stroke-width="0.95"/>
<text transform="translate(452.8,157.35) rotate(-90)" font-size="8.0" text-anchor="middle" fill="#222" stroke="#222" stroke-width="0.15">TMPMP</text>
<line x1="468.7" y1="142.5" x2="470.5" y2="142.5" stroke="#555" stroke-width="0.6"/>
<text x="468.20" y="145.60" font-size="7.4" text-anchor="end" fill="#222" stroke="#222" stroke-width="0.15">600</text>
<line x1="468.7" y1="155.6" x2="470.5" y2="155.6" stroke="#555" stroke-width="0.6"/>
<text x="468.20" y="158.70" font-size="7.4" text-anchor="end" fill="#222" stroke="#222" stroke-width="0.15">400</text>
<line x1="468.7" y1="168.6" x2="470.5" y2="168.6" stroke="#555" stroke-width="0.6"/>
<text x="468.20" y="171.70" font-size="7.4" text-anchor="end" fill="#222" stroke="#222" stroke-width="0.15">200</text>
<line x1="468.7" y1="181.6" x2="470.5" y2="181.6" stroke="#555" stroke-width="0.6"/>
<text x="468.20" y="184.70" font-size="7.4" text-anchor="end" fill="#222" stroke="#222" stroke-width="0.15">0</text>
<line x1="473.80" y1="183.9" x2="473.80" y2="185.5" stroke="#555" stroke-width="0.6"/>
<text x="473.80" y="191.90" font-size="7.4" text-anchor="middle" fill="#222" stroke="#222" stroke-width="0.15">0</text>
<line x1="482.31" y1="183.9" x2="482.31" y2="185.5" stroke="#555" stroke-width="0.6"/>
<text x="482.31" y="191.90" font-size="7.4" text-anchor="middle" fill="#222" stroke="#222" stroke-width="0.15">3</text>
<line x1="490.81" y1="183.9" x2="490.81" y2="185.5" stroke="#555" stroke-width="0.6"/>
<text x="490.81" y="191.90" font-size="7.4" text-anchor="middle" fill="#222" stroke="#222" stroke-width="0.15">6</text>
<line x1="499.31" y1="183.9" x2="499.31" y2="185.5" stroke="#555" stroke-width="0.6"/>
<text x="499.31" y="191.90" font-size="7.4" text-anchor="middle" fill="#222" stroke="#222" stroke-width="0.15">9</text>
<line x1="533.34" y1="183.9" x2="533.34" y2="185.5" stroke="#555" stroke-width="0.6"/>
<text x="533.34" y="191.90" font-size="7.4" text-anchor="middle" fill="#222" stroke="#222" stroke-width="0.15">21</text>
<g stroke="#60DCD0" stroke-width="1.1" fill="none" stroke-linejoin="round">
<polyline points="473.80,169.50 482.31,178.00 490.81,160.20 499.31,146.60"/>
<polyline points="473.80,170.50 482.31,178.50 490.81,161.50 499.31,148.70"/>
<polyline points="473.80,172.40 482.31,179.00 490.81,162.70 499.31,150.00"/>
<polyline points="473.80,173.50 482.31,178.00 490.81,164.40 499.31,156.00"/>
<polyline points="473.80,174.60 482.31,179.50 490.81,167.80 499.31,161.90"/>
<polyline points="473.80,172.00 482.31,180.00 490.81,172.40 499.31,165.60"/>
<polyline points="473.80,181.60 482.31,181.60 490.81,181.60 499.31,181.60"/>
</g>
<g fill="#60DCD0">
<circle cx="473.80" cy="169.50" r="2.2"/>
<circle cx="482.31" cy="178.00" r="2.2"/>
<circle cx="490.81" cy="160.20" r="2.2"/>
<circle cx="499.31" cy="146.60" r="2.2"/>
<circle cx="473.80" cy="170.50" r="2.2"/>
<circle cx="482.31" cy="178.50" r="2.2"/>
<circle cx="490.81" cy="161.50" r="2.2"/>
<circle cx="499.31" cy="148.70" r="2.2"/>
<circle cx="473.80" cy="172.40" r="2.2"/>
<circle cx="482.31" cy="179.00" r="2.2"/>
<circle cx="490.81" cy="162.70" r="2.2"/>
<circle cx="499.31" cy="150.00" r="2.2"/>
<circle cx="473.80" cy="173.50" r="2.2"/>
<circle cx="490.81" cy="164.40" r="2.2"/>
<circle cx="499.31" cy="156.00" r="2.2"/>
<circle cx="473.80" cy="174.60" r="2.2"/>
<circle cx="482.31" cy="179.50" r="2.2"/>
<circle cx="490.81" cy="167.80" r="2.2"/>
<circle cx="499.31" cy="161.90" r="2.2"/>
<circle cx="473.80" cy="172.00" r="2.2"/>
<circle cx="482.31" cy="180.00" r="2.2"/>
<circle cx="490.81" cy="172.40" r="2.2"/>
<circle cx="499.31" cy="165.60" r="2.2"/>
<circle cx="473.80" cy="181.60" r="2.2"/>
<circle cx="482.31" cy="181.60" r="2.2"/>
<circle cx="490.81" cy="181.60" r="2.2"/>
<circle cx="499.31" cy="181.60" r="2.2"/>
</g>
<line x1="499.5" y1="146.9" x2="509.1" y2="132.6" stroke="#333" stroke-width="0.5"/>
<line x1="499.5" y1="150.4" x2="507.9" y2="150.4" stroke="#333" stroke-width="0.5"/>
<text x="515.20" y="135.90" font-size="4.7" text-anchor="middle" fill="#333">TP53</text>
<text x="515.00" y="139.70" font-size="4.7" text-anchor="middle" fill="#333">KEAP1</text>
<text x="515.00" y="144.00" font-size="4.7" text-anchor="middle" fill="#333">ARID1A</text>
<text x="515.00" y="148.10" font-size="4.7" text-anchor="middle" fill="#333">STK11</text>
<text x="515.00" y="152.80" font-size="4.7" text-anchor="middle" fill="#333">KRAS</text>
<text x="515.80" y="158.40" font-size="4.7" text-anchor="middle" fill="#333">CDKN2A</text>
<text x="515.00" y="164.50" font-size="4.7" text-anchor="middle" fill="#333">CDH8</text>
<text x="515.30" y="168.00" font-size="4.7" text-anchor="middle" fill="#333">ATRX</text>
<line x1="474.00" y1="197.80" x2="474.00" y2="208.40" stroke="#DDDDDD" stroke-width="0.8"/>
<text x="474.00" y="215.95" font-size="7.4" text-anchor="middle" fill="#222" stroke="#222" stroke-width="0.15">0</text>
<line x1="491.13" y1="197.80" x2="491.13" y2="208.40" stroke="#DDDDDD" stroke-width="0.8"/>
<text x="491.13" y="215.95" font-size="7.4" text-anchor="middle" fill="#222" stroke="#222" stroke-width="0.15">6</text>
<line x1="508.26" y1="197.80" x2="508.26" y2="208.40" stroke="#DDDDDD" stroke-width="0.8"/>
<text x="508.26" y="215.95" font-size="7.4" text-anchor="middle" fill="#222" stroke="#222" stroke-width="0.15">12</text>
<line x1="525.39" y1="197.80" x2="525.39" y2="208.40" stroke="#DDDDDD" stroke-width="0.8"/>
<text x="525.39" y="215.95" font-size="7.4" text-anchor="middle" fill="#222" stroke="#222" stroke-width="0.15">18</text>
<line x1="542.52" y1="197.80" x2="542.52" y2="208.40" stroke="#DDDDDD" stroke-width="0.8"/>
<text x="542.52" y="215.95" font-size="7.4" text-anchor="middle" fill="#222" stroke="#222" stroke-width="0.15">24</text>
<line x1="474.00" y1="203.1" x2="491.13" y2="203.1" stroke="#60DCD0" stroke-opacity="0.45" stroke-width="1.4" stroke-dasharray="5.2,5.5"/>
<path d="M505.06,205.7 L508.26,199.7 L511.46,205.7Z" fill="#60DCD0" opacity="0.4"/>
<path d="M522.19,205.7 L525.39,199.7 L528.59,205.7Z" fill="#60DCD0" opacity="0.4"/>
<path d="M539.32,205.7 L542.52,199.7 L545.72,205.7Z" fill="#60DCD0" opacity="0.4"/>
<line x1="491.13" y1="203.1" x2="550.80" y2="203.1" stroke="#60DCD0" stroke-width="2.2"/>
<path d="M487.23,205.9 L491.13,199.29999999999998 L495.03,205.9Z" fill="#60DCD0"/>
<path d="M546.20,198.5 L555.40,207.7 M546.20,207.7 L555.40,198.5" stroke="#60DCD0" stroke-width="1.7"/>
<text x="639.30" y="126.60" font-size="7.45" text-anchor="middle" font-weight="bold" fill="#111" stroke="#111" stroke-width="0.15">Non-Durable-PAT2</text>
<rect x="595.3" y="130.4" width="88.00" height="53.50" fill="none" stroke="#858585" stroke-width="0.95"/>
<line x1="593.5" y1="141.5" x2="595.3" y2="141.5" stroke="#555" stroke-width="0.6"/>
<text x="593.00" y="144.60" font-size="7.4" text-anchor="end" fill="#222" stroke="#222" stroke-width="0.15">100.0</text>
<line x1="593.5" y1="155.0" x2="595.3" y2="155.0" stroke="#555" stroke-width="0.6"/>
<text x="593.00" y="158.10" font-size="7.4" text-anchor="end" fill="#222" stroke="#222" stroke-width="0.15">10.0</text>
<line x1="593.5" y1="168.4" x2="595.3" y2="168.4" stroke="#555" stroke-width="0.6"/>
<text x="593.00" y="171.50" font-size="7.4" text-anchor="end" fill="#222" stroke="#222" stroke-width="0.15">1.0</text>
<line x1="593.5" y1="181.6" x2="595.3" y2="181.6" stroke="#555" stroke-width="0.6"/>
<text x="593.00" y="184.70" font-size="7.4" text-anchor="end" fill="#222" stroke="#222" stroke-width="0.15">0.1</text>
<line x1="598.90" y1="183.9" x2="598.90" y2="185.5" stroke="#555" stroke-width="0.6"/>
<text x="598.90" y="191.90" font-size="7.4" text-anchor="middle" fill="#222" stroke="#222" stroke-width="0.15">0</text>
<line x1="607.40" y1="183.9" x2="607.40" y2="185.5" stroke="#555" stroke-width="0.6"/>
<text x="607.40" y="191.90" font-size="7.4" text-anchor="middle" fill="#222" stroke="#222" stroke-width="0.15">3</text>
<line x1="615.91" y1="183.9" x2="615.91" y2="185.5" stroke="#555" stroke-width="0.6"/>
<text x="615.91" y="191.90" font-size="7.4" text-anchor="middle" fill="#222" stroke="#222" stroke-width="0.15">6</text>
<line x1="624.41" y1="183.9" x2="624.41" y2="185.5" stroke="#555" stroke-width="0.6"/>
<text x="624.41" y="191.90" font-size="7.4" text-anchor="middle" fill="#222" stroke="#222" stroke-width="0.15">9</text>
<line x1="658.43" y1="183.9" x2="658.43" y2="185.5" stroke="#555" stroke-width="0.6"/>
<text x="658.43" y="191.90" font-size="7.4" text-anchor="middle" fill="#222" stroke="#222" stroke-width="0.15">21</text>
<g stroke="#B2A82C" stroke-width="1.1" fill="none" stroke-linejoin="round">
<polyline points="598.90,131.00 607.40,139.90 615.91,140.20 624.41,140.00 658.43,136.10"/>
<polyline points="598.90,133.10 607.40,149.20 615.91,158.60 624.41,162.80 658.43,148.40"/>
<polyline points="598.90,134.00 607.40,151.50 615.91,160.50 624.41,163.80 658.43,151.00"/>
<polyline points="598.90,135.00 607.40,153.50 615.91,162.50 624.41,164.80 658.43,153.50"/>
<polyline points="598.90,136.00 607.40,155.50 615.91,164.50 624.41,181.60 658.43,156.00"/>
<polyline points="598.90,136.80 607.40,157.70 615.91,181.60 624.41,165.70 658.43,159.40"/>
<polyline points="598.90,135.50 607.40,156.50 615.91,163.50 624.41,181.60 658.43,157.50"/>
<polyline points="598.90,134.50 607.40,152.50 615.91,181.60 624.41,181.60 658.43,150.50"/>
<polyline points="598.90,133.60 607.40,150.20 615.91,159.50 624.41,163.20 658.43,155.00"/>
<polyline points="598.90,181.60 607.40,181.60 615.91,181.60 624.41,181.60 658.43,181.60"/>
</g>
<g fill="#B2A82C">
<circle cx="598.90" cy="131.00" r="2.2"/>
<circle cx="607.40" cy="139.90" r="2.2"/>
<circle cx="615.91" cy="140.20" r="2.2"/>
<circle cx="624.41" cy="140.00" r="2.2"/>
<circle cx="658.43" cy="136.10" r="2.2"/>
<circle cx="598.90" cy="133.10" r="2.2"/>
<circle cx="607.40" cy="149.20" r="2.2"/>
<circle cx="615.91" cy="158.60" r="2.2"/>
<circle cx="624.41" cy="162.80" r="2.2"/>
<circle cx="658.43" cy="148.40" r="2.2"/>
<circle cx="598.90" cy="134.00" r="2.2"/>
<circle cx="607.40" cy="151.50" r="2.2"/>
<circle cx="615.91" cy="160.50" r="2.2"/>
<circle cx="624.41" cy="163.80" r="2.2"/>
<circle cx="658.43" cy="151.00" r="2.2"/>
<circle cx="598.90" cy="135.00" r="2.2"/>
<circle cx="607.40" cy="153.50" r="2.2"/>
<circle cx="615.91" cy="162.50" r="2.2"/>
<circle cx="624.41" cy="164.80" r="2.2"/>
<circle cx="658.43" cy="153.50" r="2.2"/>
<circle cx="598.90" cy="136.00" r="2.2"/>
<circle cx="607.40" cy="155.50" r="2.2"/>
<circle cx="615.91" cy="164.50" r="2.2"/>
<circle cx="624.41" cy="181.60" r="2.2"/>
<circle cx="658.43" cy="156.00" r="2.2"/>
<circle cx="598.90" cy="136.80" r="2.2"/>
<circle cx="607.40" cy="157.70" r="2.2"/>
<circle cx="615.91" cy="181.60" r="2.2"/>
<circle cx="624.41" cy="165.70" r="2.2"/>
<circle cx="658.43" cy="159.40" r="2.2"/>
<circle cx="598.90" cy="135.50" r="2.2"/>
<circle cx="607.40" cy="156.50" r="2.2"/>
<circle cx="615.91" cy="163.50" r="2.2"/>
<circle cx="658.43" cy="157.50" r="2.2"/>
<circle cx="598.90" cy="134.50" r="2.2"/>
<circle cx="607.40" cy="152.50" r="2.2"/>
<circle cx="658.43" cy="150.50" r="2.2"/>
<circle cx="598.90" cy="133.60" r="2.2"/>
<circle cx="607.40" cy="150.20" r="2.2"/>
<circle cx="615.91" cy="159.50" r="2.2"/>
<circle cx="624.41" cy="163.20" r="2.2"/>
<circle cx="658.43" cy="155.00" r="2.2"/>
<circle cx="598.90" cy="181.60" r="2.2"/>
<circle cx="607.40" cy="181.60" r="2.2"/>
<circle cx="658.43" cy="181.60" r="2.2"/>
</g>
<line x1="658.5" y1="148.5" x2="664.6" y2="143.6" stroke="#333" stroke-width="0.5"/>
<line x1="658.5" y1="154.0" x2="664.2" y2="162.4" stroke="#333" stroke-width="0.5"/>
<text x="673.10" y="139.40" font-size="4.7" text-anchor="middle" fill="#333">MLL3</text>
<text x="672.70" y="146.10" font-size="4.7" text-anchor="middle" fill="#333">EPHA6</text>
<text x="672.70" y="149.40" font-size="4.7" text-anchor="middle" fill="#333">EPHA5</text>
<text x="672.80" y="153.30" font-size="4.7" text-anchor="middle" fill="#333">TP53</text>
<text x="672.50" y="157.50" font-size="4.7" text-anchor="middle" fill="#333">PIK3CG</text>
<text x="672.70" y="161.10" font-size="4.7" text-anchor="middle" fill="#333">NKX2-1</text>
<text x="672.80" y="164.80" font-size="4.7" text-anchor="middle" fill="#333">ZNF217</text>
<line x1="599.10" y1="197.80" x2="599.10" y2="208.40" stroke="#DDDDDD" stroke-width="0.8"/>
<text x="599.10" y="215.95" font-size="7.4" text-anchor="middle" fill="#222" stroke="#222" stroke-width="0.15">0</text>
<line x1="616.23" y1="197.80" x2="616.23" y2="208.40" stroke="#DDDDDD" stroke-width="0.8"/>
<text x="616.23" y="215.95" font-size="7.4" text-anchor="middle" fill="#222" stroke="#222" stroke-width="0.15">6</text>
<line x1="633.36" y1="197.80" x2="633.36" y2="208.40" stroke="#DDDDDD" stroke-width="0.8"/>
<text x="633.36" y="215.95" font-size="7.4" text-anchor="middle" fill="#222" stroke="#222" stroke-width="0.15">12</text>
<line x1="650.49" y1="197.80" x2="650.49" y2="208.40" stroke="#DDDDDD" stroke-width="0.8"/>
<text x="650.49" y="215.95" font-size="7.4" text-anchor="middle" fill="#222" stroke="#222" stroke-width="0.15">18</text>
<line x1="667.62" y1="197.80" x2="667.62" y2="208.40" stroke="#DDDDDD" stroke-width="0.8"/>
<text x="667.62" y="215.95" font-size="7.4" text-anchor="middle" fill="#222" stroke="#222" stroke-width="0.15">24</text>
<line x1="599.10" y1="203.1" x2="667.62" y2="203.1" stroke="#B2A82C" stroke-opacity="0.45" stroke-width="1.4" stroke-dasharray="5.2,5.5"/>
<rect x="613.73" y="200.6" width="5" height="5" fill="#B2A82C" opacity="0.5"/>
<rect x="630.86" y="200.6" width="5" height="5" fill="#B2A82C" opacity="0.5"/>
<rect x="647.99" y="200.6" width="5" height="5" fill="#B2A82C" opacity="0.5"/>
<line x1="667.62" y1="203.1" x2="675.90" y2="203.1" stroke="#B2A82C" stroke-width="2.2"/>
<path d="M663.72,205.9 L667.62,199.29999999999998 L671.52,205.9Z" fill="#B2A82C"/>
<path d="M671.30,198.5 L680.50,207.7 M671.30,207.7 L680.50,198.5" stroke="#B2A82C" stroke-width="1.7"/>
<text x="514.50" y="227.60" font-size="7.45" text-anchor="middle" font-weight="bold" fill="#111" stroke="#111" stroke-width="0.15">Progressive-PAT3</text>
<rect x="470.5" y="231.4" width="88.00" height="53.50" fill="none" stroke="#858585" stroke-width="0.95"/>
<text transform="translate(452.8,258.35) rotate(-90)" font-size="8.0" text-anchor="middle" fill="#222" stroke="#222" stroke-width="0.15">TMPMP</text>
<line x1="468.7" y1="246.5" x2="470.5" y2="246.5" stroke="#555" stroke-width="0.6"/>
<text x="468.20" y="249.60" font-size="7.4" text-anchor="end" fill="#222" stroke="#222" stroke-width="0.15">400</text>
<line x1="468.7" y1="264.6" x2="470.5" y2="264.6" stroke="#555" stroke-width="0.6"/>
<text x="468.20" y="267.70" font-size="7.4" text-anchor="end" fill="#222" stroke="#222" stroke-width="0.15">200</text>
<line x1="468.7" y1="282.8" x2="470.5" y2="282.8" stroke="#555" stroke-width="0.6"/>
<text x="468.20" y="285.90" font-size="7.4" text-anchor="end" fill="#222" stroke="#222" stroke-width="0.15">0</text>
<line x1="473.80" y1="284.9" x2="473.80" y2="286.5" stroke="#555" stroke-width="0.6"/>
<text x="473.80" y="292.90" font-size="7.4" text-anchor="middle" fill="#222" stroke="#222" stroke-width="0.15">0</text>
<line x1="482.31" y1="284.9" x2="482.31" y2="286.5" stroke="#555" stroke-width="0.6"/>
<text x="482.31" y="292.90" font-size="7.4" text-anchor="middle" fill="#222" stroke="#222" stroke-width="0.15">3</text>
<line x1="490.81" y1="284.9" x2="490.81" y2="286.5" stroke="#555" stroke-width="0.6"/>
<text x="490.81" y="292.90" font-size="7.4" text-anchor="middle" fill="#222" stroke="#222" stroke-width="0.15">6</text>
<line x1="499.31" y1="284.9" x2="499.31" y2="286.5" stroke="#555" stroke-width="0.6"/>
<text x="499.31" y="292.90" font-size="7.4" text-anchor="middle" fill="#222" stroke="#222" stroke-width="0.15">9</text>
<line x1="533.34" y1="284.9" x2="533.34" y2="286.5" stroke="#555" stroke-width="0.6"/>
<text x="533.34" y="292.90" font-size="7.4" text-anchor="middle" fill="#222" stroke="#222" stroke-width="0.15">21</text>
<g stroke="#F062FC" stroke-width="1.1" fill="none" stroke-linejoin="round">
<polyline points="473.80,276.00 482.31,233.80"/>
<polyline points="473.80,273.00 482.31,243.00"/>
<polyline points="473.80,279.00 482.31,249.30"/>
<polyline points="473.80,274.50 482.31,253.00"/>
<polyline points="473.80,281.00 482.31,256.00"/>
<polyline points="473.80,277.50 482.31,259.00"/>
<polyline points="473.80,275.00 482.31,262.00"/>
<polyline points="473.80,280.00 482.31,264.50"/>
<polyline points="473.80,278.00 482.31,266.50"/>
<polyline points="473.80,282.50 482.31,279.80"/>
<polyline points="473.80,282.90 482.31,282.60"/>
<polyline points="473.80,281.50 482.31,282.00"/>
</g>
<g fill="#F062FC">
<circle cx="473.80" cy="276.00" r="2.2"/>
<circle cx="482.31" cy="233.80" r="2.2"/>
<circle cx="473.80" cy="273.00" r="2.2"/>
<circle cx="482.31" cy="243.00" r="2.2"/>
<circle cx="473.80" cy="279.00" r="2.2"/>
<circle cx="482.31" cy="249.30" r="2.2"/>
<circle cx="473.80" cy="274.50" r="2.2"/>
<circle cx="482.31" cy="253.00" r="2.2"/>
<circle cx="473.80" cy="281.00" r="2.2"/>
<circle cx="482.31" cy="256.00" r="2.2"/>
<circle cx="473.80" cy="277.50" r="2.2"/>
<circle cx="482.31" cy="259.00" r="2.2"/>
<circle cx="473.80" cy="275.00" r="2.2"/>
<circle cx="482.31" cy="262.00" r="2.2"/>
<circle cx="473.80" cy="280.00" r="2.2"/>
<circle cx="482.31" cy="264.50" r="2.2"/>
<circle cx="473.80" cy="278.00" r="2.2"/>
<circle cx="482.31" cy="266.50" r="2.2"/>
<circle cx="473.80" cy="282.50" r="2.2"/>
<circle cx="482.31" cy="279.80" r="2.2"/>
<circle cx="473.80" cy="282.90" r="2.2"/>
<circle cx="482.31" cy="282.60" r="2.2"/>
<circle cx="473.80" cy="281.50" r="2.2"/>
<circle cx="482.31" cy="282.00" r="2.2"/>
</g>
<line x1="482.4" y1="249.1" x2="492.2" y2="250.0" stroke="#333" stroke-width="0.5"/>
<line x1="482.5" y1="253.9" x2="491.1" y2="266.1" stroke="#333" stroke-width="0.5"/>
<text x="498.50" y="236.10" font-size="4.7" text-anchor="middle" fill="#333">STK11</text>
<text x="498.60" y="245.50" font-size="4.7" text-anchor="middle" fill="#333">HGF</text>
<text x="498.30" y="252.20" font-size="4.7" text-anchor="middle" fill="#333">TP53</text>
<text x="498.60" y="256.10" font-size="4.7" text-anchor="middle" fill="#333">SMARCA4</text>
<text x="498.50" y="259.20" font-size="4.7" text-anchor="middle" fill="#333">TBX3</text>
<text x="498.50" y="263.00" font-size="4.7" text-anchor="middle" fill="#333">SPTA1</text>
<text x="499.00" y="267.20" font-size="4.7" text-anchor="middle" fill="#333">KEAP1</text>
<line x1="474.00" y1="298.80" x2="474.00" y2="309.40" stroke="#DDDDDD" stroke-width="0.8"/>
<text x="474.00" y="316.95" font-size="7.4" text-anchor="middle" fill="#222" stroke="#222" stroke-width="0.15">0</text>
<line x1="491.13" y1="298.80" x2="491.13" y2="309.40" stroke="#DDDDDD" stroke-width="0.8"/>
<text x="491.13" y="316.95" font-size="7.4" text-anchor="middle" fill="#222" stroke="#222" stroke-width="0.15">6</text>
<line x1="508.26" y1="298.80" x2="508.26" y2="309.40" stroke="#DDDDDD" stroke-width="0.8"/>
<text x="508.26" y="316.95" font-size="7.4" text-anchor="middle" fill="#222" stroke="#222" stroke-width="0.15">12</text>
<line x1="525.39" y1="298.80" x2="525.39" y2="309.40" stroke="#DDDDDD" stroke-width="0.8"/>
<text x="525.39" y="316.95" font-size="7.4" text-anchor="middle" fill="#222" stroke="#222" stroke-width="0.15">18</text>
<line x1="542.52" y1="298.80" x2="542.52" y2="309.40" stroke="#DDDDDD" stroke-width="0.8"/>
<text x="542.52" y="316.95" font-size="7.4" text-anchor="middle" fill="#222" stroke="#222" stroke-width="0.15">24</text>
<line x1="474.00" y1="304.09999999999997" x2="491.13" y2="304.09999999999997" stroke="#F062FC" stroke-opacity="0.45" stroke-width="1.4" stroke-dasharray="5.2,5.5"/>
<line x1="491.13" y1="304.09999999999997" x2="550.80" y2="304.09999999999997" stroke="#F062FC" stroke-width="2.2"/>
<path d="M487.23,306.9 L491.13,300.29999999999995 L495.03,306.9Z" fill="#F062FC"/>
<path d="M546.20,299.49999999999994 L555.40,308.7 M546.20,308.7 L555.40,299.49999999999994" stroke="#F062FC" stroke-width="1.7"/>
<text x="639.30" y="227.60" font-size="7.45" text-anchor="middle" font-weight="bold" fill="#111" stroke="#111" stroke-width="0.15">Non-Durable-PAT3</text>
<rect x="595.3" y="231.4" width="88.00" height="53.50" fill="none" stroke="#858585" stroke-width="0.95"/>
<line x1="593.5" y1="242.0" x2="595.3" y2="242.0" stroke="#555" stroke-width="0.6"/>
<text x="593.00" y="245.10" font-size="7.4" text-anchor="end" fill="#222" stroke="#222" stroke-width="0.15">3000</text>
<line x1="593.5" y1="255.6" x2="595.3" y2="255.6" stroke="#555" stroke-width="0.6"/>
<text x="593.00" y="258.70" font-size="7.4" text-anchor="end" fill="#222" stroke="#222" stroke-width="0.15">2000</text>
<line x1="593.5" y1="269.2" x2="595.3" y2="269.2" stroke="#555" stroke-width="0.6"/>
<text x="593.00" y="272.30" font-size="7.4" text-anchor="end" fill="#222" stroke="#222" stroke-width="0.15">1000</text>
<line x1="593.5" y1="282.9" x2="595.3" y2="282.9" stroke="#555" stroke-width="0.6"/>
<text x="593.00" y="286.00" font-size="7.4" text-anchor="end" fill="#222" stroke="#222" stroke-width="0.15">0</text>
<line x1="598.90" y1="284.9" x2="598.90" y2="286.5" stroke="#555" stroke-width="0.6"/>
<text x="598.90" y="292.90" font-size="7.4" text-anchor="middle" fill="#222" stroke="#222" stroke-width="0.15">0</text>
<line x1="607.40" y1="284.9" x2="607.40" y2="286.5" stroke="#555" stroke-width="0.6"/>
<text x="607.40" y="292.90" font-size="7.4" text-anchor="middle" fill="#222" stroke="#222" stroke-width="0.15">3</text>
<line x1="615.91" y1="284.9" x2="615.91" y2="286.5" stroke="#555" stroke-width="0.6"/>
<text x="615.91" y="292.90" font-size="7.4" text-anchor="middle" fill="#222" stroke="#222" stroke-width="0.15">6</text>
<line x1="624.41" y1="284.9" x2="624.41" y2="286.5" stroke="#555" stroke-width="0.6"/>
<text x="624.41" y="292.90" font-size="7.4" text-anchor="middle" fill="#222" stroke="#222" stroke-width="0.15">9</text>
<line x1="658.43" y1="284.9" x2="658.43" y2="286.5" stroke="#555" stroke-width="0.6"/>
<text x="658.43" y="292.90" font-size="7.4" text-anchor="middle" fill="#222" stroke="#222" stroke-width="0.15">21</text>
<g stroke="#70A0FC" stroke-width="1.1" fill="none" stroke-linejoin="round">
<polyline points="598.90,246.50 607.40,279.03 615.91,280.91 624.41,282.90 658.43,233.70"/>
<polyline points="598.90,264.00 607.40,279.49 615.91,281.05 624.41,282.90 658.43,237.40"/>
<polyline points="598.90,235.80 607.40,280.39 615.91,279.76 624.41,282.90 658.43,241.40"/>
<polyline points="598.90,258.00 607.40,278.25 615.91,281.61 624.41,282.90 658.43,243.60"/>
<polyline points="598.90,267.00 607.40,279.11 615.91,280.16 624.41,282.90 658.43,246.00"/>
<polyline points="598.90,240.00 607.40,281.68 615.91,280.73 624.41,282.90 658.43,248.00"/>
<polyline points="598.90,254.00 607.40,281.13 615.91,280.74 624.41,282.90 658.43,249.60"/>
<polyline points="598.90,269.50 607.40,280.44 615.91,279.96 624.41,282.90 658.43,251.20"/>
<polyline points="598.90,260.00 607.40,280.42 615.91,281.68 624.41,282.90 658.43,252.70"/>
<polyline points="598.90,242.50 607.40,280.03 615.91,281.38 624.41,282.90 658.43,254.20"/>
<polyline points="598.90,270.20 607.40,280.55 615.91,279.75 624.41,282.90 658.43,255.60"/>
<polyline points="598.90,248.50 607.40,280.85 615.91,281.02 624.41,282.90 658.43,257.00"/>
<polyline points="598.90,265.50 607.40,279.25 615.91,279.67 624.41,282.90 658.43,258.40"/>
<polyline points="598.90,238.00 607.40,281.23 615.91,280.73 624.41,282.90 658.43,259.80"/>
<polyline points="598.90,262.00 607.40,280.72 615.91,281.71 624.41,282.90 658.43,261.20"/>
<polyline points="598.90,244.50 607.40,280.70 615.91,281.81 624.41,282.90 658.43,262.60"/>
<polyline points="598.90,268.50 607.40,279.58 615.91,281.52 624.41,282.90 658.43,264.00"/>
<polyline points="598.90,256.00 607.40,279.76 615.91,281.85 624.41,282.90 658.43,265.40"/>
<polyline points="598.90,257.00 607.40,281.28 615.91,279.83 624.41,282.90 658.43,247.00"/>
<polyline points="598.90,241.00 607.40,278.68 615.91,280.12 624.41,282.90 658.43,250.40"/>
<polyline points="598.90,269.00 607.40,281.58 615.91,280.65 624.41,282.90 658.43,253.50"/>
<polyline points="598.90,237.00 607.40,280.39 615.91,280.32 624.41,282.90 658.43,256.30"/>
<polyline points="598.90,261.00 607.40,279.98 615.91,280.53 624.41,282.90 658.43,259.10"/>
<polyline points="598.90,245.50 607.40,279.43 615.91,281.00 624.41,282.90 658.43,261.90"/>
<polyline points="598.90,266.00 607.40,280.24 615.91,281.77 624.41,282.90 658.43,264.70"/>
<polyline points="598.90,253.00 607.40,280.59 615.91,281.83 624.41,282.90 658.43,266.00"/>
<polyline points="598.90,281.50 607.40,282.60 615.91,282.60 624.41,282.90 658.43,282.90"/>
</g>
<g fill="#70A0FC">
<circle cx="598.90" cy="246.50" r="2.2"/>
<circle cx="607.40" cy="279.03" r="2.2"/>
<circle cx="615.91" cy="280.91" r="2.2"/>
<circle cx="624.41" cy="282.90" r="2.2"/>
<circle cx="658.43" cy="233.70" r="2.2"/>
<circle cx="598.90" cy="264.00" r="2.2"/>
<circle cx="607.40" cy="279.49" r="2.2"/>
<circle cx="615.91" cy="281.05" r="2.2"/>
<circle cx="658.43" cy="237.40" r="2.2"/>
<circle cx="598.90" cy="235.80" r="2.2"/>
<circle cx="607.40" cy="280.39" r="2.2"/>
<circle cx="615.91" cy="279.76" r="2.2"/>
<circle cx="658.43" cy="241.40" r="2.2"/>
<circle cx="598.90" cy="258.00" r="2.2"/>
<circle cx="607.40" cy="278.25" r="2.2"/>
<circle cx="615.91" cy="281.61" r="2.2"/>
<circle cx="658.43" cy="243.60" r="2.2"/>
<circle cx="598.90" cy="267.00" r="2.2"/>
<circle cx="607.40" cy="279.11" r="2.2"/>
<circle cx="615.91" cy="280.16" r="2.2"/>
<circle cx="658.43" cy="246.00" r="2.2"/>
<circle cx="598.90" cy="240.00" r="2.2"/>
<circle cx="607.40" cy="281.68" r="2.2"/>
<circle cx="615.91" cy="280.73" r="2.2"/>
<circle cx="658.43" cy="248.00" r="2.2"/>
<circle cx="598.90" cy="254.00" r="2.2"/>
<circle cx="607.40" cy="281.13" r="2.2"/>
<circle cx="658.43" cy="249.60" r="2.2"/>
<circle cx="598.90" cy="269.50" r="2.2"/>
<circle cx="615.91" cy="279.96" r="2.2"/>
<circle cx="658.43" cy="251.20" r="2.2"/>
<circle cx="598.90" cy="260.00" r="2.2"/>
<circle cx="615.91" cy="281.68" r="2.2"/>
<circle cx="658.43" cy="252.70" r="2.2"/>
<circle cx="598.90" cy="242.50" r="2.2"/>
<circle cx="607.40" cy="280.03" r="2.2"/>
<circle cx="615.91" cy="281.38" r="2.2"/>
<circle cx="658.43" cy="254.20" r="2.2"/>
<circle cx="598.90" cy="270.20" r="2.2"/>
<circle cx="607.40" cy="280.55" r="2.2"/>
<circle cx="658.43" cy="255.60" r="2.2"/>
<circle cx="598.90" cy="248.50" r="2.2"/>
<circle cx="607.40" cy="280.85" r="2.2"/>
<circle cx="658.43" cy="257.00" r="2.2"/>
<circle cx="598.90" cy="265.50" r="2.2"/>
<circle cx="607.40" cy="279.25" r="2.2"/>
<circle cx="615.91" cy="279.67" r="2.2"/>
<circle cx="658.43" cy="258.40" r="2.2"/>
<circle cx="598.90" cy="238.00" r="2.2"/>
<circle cx="607.40" cy="281.23" r="2.2"/>
<circle cx="658.43" cy="259.80" r="2.2"/>
<circle cx="598.90" cy="262.00" r="2.2"/>
<circle cx="607.40" cy="280.72" r="2.2"/>
<circle cx="658.43" cy="261.20" r="2.2"/>
<circle cx="598.90" cy="244.50" r="2.2"/>
<circle cx="615.91" cy="281.81" r="2.2"/>
<circle cx="658.43" cy="262.60" r="2.2"/>
<circle cx="598.90" cy="268.50" r="2.2"/>
<circle cx="607.40" cy="279.58" r="2.2"/>
<circle cx="615.91" cy="281.52" r="2.2"/>
<circle cx="658.43" cy="264.00" r="2.2"/>
<circle cx="598.90" cy="256.00" r="2.2"/>
<circle cx="607.40" cy="279.76" r="2.2"/>
<circle cx="658.43" cy="265.40" r="2.2"/>
<circle cx="598.90" cy="257.00" r="2.2"/>
<circle cx="607.40" cy="281.28" r="2.2"/>
<circle cx="658.43" cy="247.00" r="2.2"/>
<circle cx="598.90" cy="241.00" r="2.2"/>
<circle cx="607.40" cy="278.68" r="2.2"/>
<circle cx="615.91" cy="280.12" r="2.2"/>
<circle cx="658.43" cy="250.40" r="2.2"/>
<circle cx="598.90" cy="269.00" r="2.2"/>
<circle cx="607.40" cy="281.58" r="2.2"/>
<circle cx="615.91" cy="280.65" r="2.2"/>
<circle cx="658.43" cy="253.50" r="2.2"/>
<circle cx="598.90" cy="237.00" r="2.2"/>
<circle cx="615.91" cy="280.32" r="2.2"/>
<circle cx="658.43" cy="256.30" r="2.2"/>
<circle cx="598.90" cy="261.00" r="2.2"/>
<circle cx="615.91" cy="280.53" r="2.2"/>
<circle cx="658.43" cy="259.10" r="2.2"/>
<circle cx="598.90" cy="245.50" r="2.2"/>
<circle cx="607.40" cy="279.43" r="2.2"/>
<circle cx="658.43" cy="261.90" r="2.2"/>
<circle cx="598.90" cy="266.00" r="2.2"/>
<circle cx="607.40" cy="280.24" r="2.2"/>
<circle cx="658.43" cy="264.70" r="2.2"/>
<circle cx="598.90" cy="253.00" r="2.2"/>
<circle cx="607.40" cy="280.59" r="2.2"/>
<circle cx="658.43" cy="266.00" r="2.2"/>
<circle cx="598.90" cy="281.50" r="2.2"/>
<circle cx="607.40" cy="282.60" r="2.2"/>
<circle cx="615.91" cy="282.60" r="2.2"/>
<circle cx="658.43" cy="282.90" r="2.2"/>
</g>
<text x="670.50" y="236.70" font-size="4.7" text-anchor="middle" fill="#333">CRKL</text>
<text x="670.40" y="240.60" font-size="4.7" text-anchor="middle" fill="#333">TNK2</text>
<text x="671.10" y="244.90" font-size="4.7" text-anchor="middle" fill="#333">MAGI2</text>
<text x="670.70" y="248.30" font-size="4.7" text-anchor="middle" fill="#333">KEAP1</text>
<line x1="599.10" y1="298.80" x2="599.10" y2="309.40" stroke="#DDDDDD" stroke-width="0.8"/>
<text x="599.10" y="316.95" font-size="7.4" text-anchor="middle" fill="#222" stroke="#222" stroke-width="0.15">0</text>
<line x1="616.23" y1="298.80" x2="616.23" y2="309.40" stroke="#DDDDDD" stroke-width="0.8"/>
<text x="616.23" y="316.95" font-size="7.4" text-anchor="middle" fill="#222" stroke="#222" stroke-width="0.15">6</text>
<line x1="633.36" y1="298.80" x2="633.36" y2="309.40" stroke="#DDDDDD" stroke-width="0.8"/>
<text x="633.36" y="316.95" font-size="7.4" text-anchor="middle" fill="#222" stroke="#222" stroke-width="0.15">12</text>
<line x1="650.49" y1="298.80" x2="650.49" y2="309.40" stroke="#DDDDDD" stroke-width="0.8"/>
<text x="650.49" y="316.95" font-size="7.4" text-anchor="middle" fill="#222" stroke="#222" stroke-width="0.15">18</text>
<line x1="667.62" y1="298.80" x2="667.62" y2="309.40" stroke="#DDDDDD" stroke-width="0.8"/>
<text x="667.62" y="316.95" font-size="7.4" text-anchor="middle" fill="#222" stroke="#222" stroke-width="0.15">24</text>
<line x1="599.10" y1="304.09999999999997" x2="667.62" y2="304.09999999999997" stroke="#70A0FC" stroke-opacity="0.45" stroke-width="1.4" stroke-dasharray="5.2,5.5"/>
<rect x="613.73" y="301.59999999999997" width="5" height="5" fill="#70A0FC" opacity="0.5"/>
<rect x="630.86" y="301.59999999999997" width="5" height="5" fill="#70A0FC" opacity="0.5"/>
<rect x="647.99" y="301.59999999999997" width="5" height="5" fill="#70A0FC" opacity="0.5"/>
<line x1="667.62" y1="304.09999999999997" x2="675.90" y2="304.09999999999997" stroke="#70A0FC" stroke-width="2.2"/>
<path d="M663.72,306.9 L667.62,300.29999999999995 L671.52,306.9Z" fill="#70A0FC"/>
<path d="M671.30,299.49999999999994 L680.50,308.7 M671.30,308.7 L680.50,299.49999999999994" stroke="#70A0FC" stroke-width="1.7"/>
<text x="556.60" y="327.10" font-size="8.2" text-anchor="start" fill="#222" stroke="#222" stroke-width="0.15">Time(week)</text>
<path d="M489.0,341.2 L492.6,334.4 L496.2,341.2Z" fill="#111"/>
<text x="499.40" y="341.00" font-size="8.2" text-anchor="start" fill="#222" stroke="#222" stroke-width="0.15">First PD</text>
<path d="M536.4,341.0 L539.8,334.7 L543.2,341.0Z" fill="none" stroke="#444" stroke-width="0.6"/>
<text x="546.00" y="341.00" font-size="8.2" text-anchor="start" fill="#222" stroke="#222" stroke-width="0.15">PD</text>
<circle cx="568.6" cy="338.0" r="2.8" fill="#E8E8E8" stroke="#666" stroke-width="0.6"/>
<text x="575.20" y="341.00" font-size="8.2" text-anchor="start" fill="#222" stroke="#222" stroke-width="0.15">SD</text>
<rect x="596.8" y="335.2" width="5.6" height="5.6" fill="#E8E8E8" stroke="#666" stroke-width="0.6"/>
<text x="606.00" y="341.00" font-size="8.2" text-anchor="start" fill="#222" stroke="#222" stroke-width="0.15">PR</text>
<path d="M629.0,334.6 L635.6,341.2 M629.0,341.2 L635.6,334.6" stroke="#E86A8E" stroke-width="1"/>
<text x="639.60" y="341.00" font-size="8.2" text-anchor="start" fill="#222" stroke="#222" stroke-width="0.15">Dead</text>
</svg>
</body></html>
